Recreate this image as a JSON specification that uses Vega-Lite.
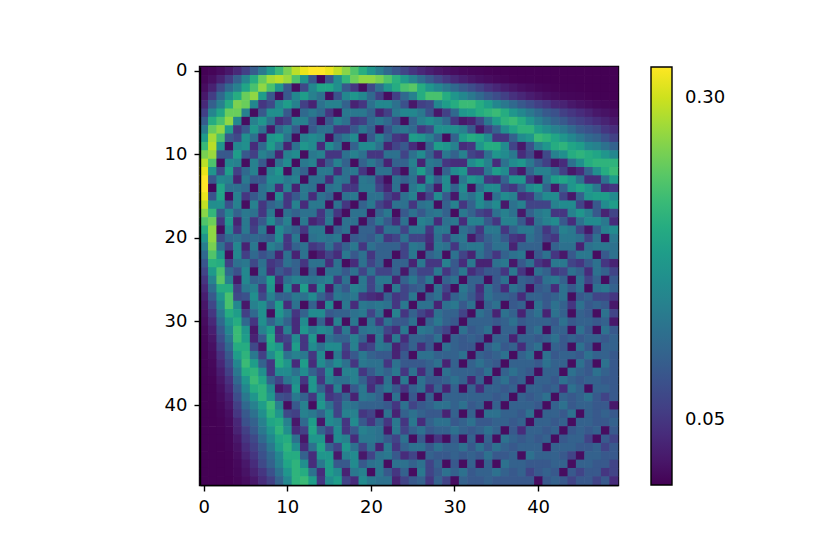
{"$schema":"https://vega.github.io/schema/vega-lite/v6.json","width":418,"height":418,"autosize":"none","padding":{"left":200,"top":67,"right":212,"bottom":69},"background":"white","config":{"view":{"stroke":"black","strokeWidth":2.4},"font":"DejaVu Sans"},"mark":{"type":"rect","width":9,"height":9},"encoding":{"x":{"field":"x","type":"ordinal","scale":{"type":"band","paddingInner":0,"paddingOuter":0},"axis":{"values":[0,10,20,30,40],"title":null,"labelAngle":0,"labelFontSize":18,"labelFont":"DejaVu Sans","labelColor":"black","tickColor":"black","domainColor":"black","tickSize":6,"tickWidth":1.4,"domainWidth":1.4,"labelPadding":7,"grid":false}},"y":{"field":"y","type":"ordinal","scale":{"type":"band","paddingInner":0,"paddingOuter":0},"axis":{"values":[0,10,20,30,40],"title":null,"labelFontSize":18,"labelFont":"DejaVu Sans","labelColor":"black","tickColor":"black","domainColor":"black","tickSize":6,"tickWidth":1.4,"domainWidth":1.4,"labelPadding":7,"grid":false}},"color":{"field":"v","type":"quantitative","scale":{"scheme":"viridis","domain":[0,0.324]},"legend":{"type":"gradient","orient":"none","legendX":451,"legendY":0,"direction":"vertical","gradientLength":418,"gradientThickness":21,"values":[0.05,0.3],"format":".2f","labelFontSize":18,"labelFont":"DejaVu Sans","labelColor":"black","labelOffset":13,"labelOverlap":false,"title":null,"gradientStrokeColor":"black","gradientStrokeWidth":1.4}}},"data":{"values":[
{"x":0,"y":0,"v":0.001},{"x":1,"y":0,"v":0.003},{"x":2,"y":0,"v":0.009},{"x":3,"y":0,"v":0.02},{"x":4,"y":0,"v":0.037},{"x":5,"y":0,"v":0.061},{"x":6,"y":0,"v":0.093},{"x":7,"y":0,"v":0.132},{"x":8,"y":0,"v":0.175},{"x":9,"y":0,"v":0.218},{"x":10,"y":0,"v":0.258},{"x":11,"y":0,"v":0.291},{"x":12,"y":0,"v":0.314},{"x":13,"y":0,"v":0.326},{"x":14,"y":0,"v":0.326},{"x":15,"y":0,"v":0.315},{"x":16,"y":0,"v":0.294},{"x":17,"y":0,"v":0.267},{"x":18,"y":0,"v":0.235},{"x":19,"y":0,"v":0.202},{"x":20,"y":0,"v":0.169},{"x":21,"y":0,"v":0.138},{"x":22,"y":0,"v":0.11},{"x":23,"y":0,"v":0.086},{"x":24,"y":0,"v":0.066},{"x":25,"y":0,"v":0.049},{"x":26,"y":0,"v":0.036},{"x":27,"y":0,"v":0.026},{"x":28,"y":0,"v":0.018},{"x":29,"y":0,"v":0.013},{"x":30,"y":0,"v":0.009},{"x":31,"y":0,"v":0.006},{"x":32,"y":0,"v":0.004},{"x":33,"y":0,"v":0.003},{"x":34,"y":0,"v":0.002},{"x":35,"y":0,"v":0.001},{"x":36,"y":0,"v":0.001},{"x":37,"y":0,"v":0},{"x":38,"y":0,"v":0},{"x":39,"y":0,"v":0},{"x":40,"y":0,"v":0},{"x":41,"y":0,"v":0},{"x":42,"y":0,"v":0},{"x":43,"y":0,"v":0},{"x":44,"y":0,"v":0},{"x":45,"y":0,"v":0},{"x":46,"y":0,"v":0},{"x":47,"y":0,"v":0},{"x":48,"y":0,"v":0},{"x":49,"y":0,"v":0},
{"x":0,"y":1,"v":0.003},{"x":1,"y":1,"v":0.012},{"x":2,"y":1,"v":0.029},{"x":3,"y":1,"v":0.057},{"x":4,"y":1,"v":0.097},{"x":5,"y":1,"v":0.147},{"x":6,"y":1,"v":0.2},{"x":7,"y":1,"v":0.247},{"x":8,"y":1,"v":0.28},{"x":9,"y":1,"v":0.29},{"x":10,"y":1,"v":0.275},{"x":11,"y":1,"v":0.233},{"x":12,"y":1,"v":0.168},{"x":13,"y":1,"v":0.087},{"x":14,"y":1,"v":0.005},{"x":15,"y":1,"v":0.084},{"x":16,"y":1,"v":0.157},{"x":17,"y":1,"v":0.214},{"x":18,"y":1,"v":0.252},{"x":19,"y":1,"v":0.27},{"x":20,"y":1,"v":0.27},{"x":21,"y":1,"v":0.258},{"x":22,"y":1,"v":0.235},{"x":23,"y":1,"v":0.206},{"x":24,"y":1,"v":0.175},{"x":25,"y":1,"v":0.144},{"x":26,"y":1,"v":0.115},{"x":27,"y":1,"v":0.09},{"x":28,"y":1,"v":0.068},{"x":29,"y":1,"v":0.051},{"x":30,"y":1,"v":0.037},{"x":31,"y":1,"v":0.026},{"x":32,"y":1,"v":0.018},{"x":33,"y":1,"v":0.013},{"x":34,"y":1,"v":0.009},{"x":35,"y":1,"v":0.006},{"x":36,"y":1,"v":0.004},{"x":37,"y":1,"v":0.002},{"x":38,"y":1,"v":0.001},{"x":39,"y":1,"v":0.001},{"x":40,"y":1,"v":0},{"x":41,"y":1,"v":0},{"x":42,"y":1,"v":0},{"x":43,"y":1,"v":0},{"x":44,"y":1,"v":0},{"x":45,"y":1,"v":0},{"x":46,"y":1,"v":0},{"x":47,"y":1,"v":0},{"x":48,"y":1,"v":0},{"x":49,"y":1,"v":0},
{"x":0,"y":2,"v":0.009},{"x":1,"y":2,"v":0.029},{"x":2,"y":2,"v":0.07},{"x":3,"y":2,"v":0.11},{"x":4,"y":2,"v":0.14},{"x":5,"y":2,"v":0.19},{"x":6,"y":2,"v":0.23},{"x":7,"y":2,"v":0.27},{"x":8,"y":2,"v":0.23},{"x":9,"y":2,"v":0.17},{"x":10,"y":2,"v":0.09},{"x":11,"y":2,"v":0.01},{"x":12,"y":2,"v":0.07},{"x":13,"y":2,"v":0.15},{"x":14,"y":2,"v":0.19},{"x":15,"y":2,"v":0.19},{"x":16,"y":2,"v":0.16},{"x":17,"y":2,"v":0.09},{"x":18,"y":2,"v":0.05},{"x":19,"y":2,"v":0.01},{"x":20,"y":2,"v":0.07},{"x":21,"y":2,"v":0.12},{"x":22,"y":2,"v":0.17},{"x":23,"y":2,"v":0.2},{"x":24,"y":2,"v":0.23},{"x":25,"y":2,"v":0.24},{"x":26,"y":2,"v":0.2},{"x":27,"y":2,"v":0.17},{"x":28,"y":2,"v":0.15},{"x":29,"y":2,"v":0.13},{"x":30,"y":2,"v":0.11},{"x":31,"y":2,"v":0.09},{"x":32,"y":2,"v":0.075},{"x":33,"y":2,"v":0.06},{"x":34,"y":2,"v":0.045},{"x":35,"y":2,"v":0.035},{"x":36,"y":2,"v":0.025},{"x":37,"y":2,"v":0.018},{"x":38,"y":2,"v":0.012},{"x":39,"y":2,"v":0.008},{"x":40,"y":2,"v":0.005},{"x":41,"y":2,"v":0.003},{"x":42,"y":2,"v":0.002},{"x":43,"y":2,"v":0.001},{"x":44,"y":2,"v":0.001},{"x":45,"y":2,"v":0},{"x":46,"y":2,"v":0},{"x":47,"y":2,"v":0},{"x":48,"y":2,"v":0},{"x":49,"y":2,"v":0},
{"x":0,"y":3,"v":0.02},{"x":1,"y":3,"v":0.057},{"x":2,"y":3,"v":0.11},{"x":3,"y":3,"v":0.16},{"x":4,"y":3,"v":0.2},{"x":5,"y":3,"v":0.25},{"x":6,"y":3,"v":0.27},{"x":7,"y":3,"v":0.18},{"x":8,"y":3,"v":0.09},{"x":9,"y":3,"v":0.01},{"x":10,"y":3,"v":0.09},{"x":11,"y":3,"v":0.15},{"x":12,"y":3,"v":0.18},{"x":13,"y":3,"v":0.14},{"x":14,"y":3,"v":0.12},{"x":15,"y":3,"v":0.01},{"x":16,"y":3,"v":0.08},{"x":17,"y":3,"v":0.15},{"x":18,"y":3,"v":0.17},{"x":19,"y":3,"v":0.15},{"x":20,"y":3,"v":0.11},{"x":21,"y":3,"v":0.06},{"x":22,"y":3,"v":0.01},{"x":23,"y":3,"v":0.06},{"x":24,"y":3,"v":0.11},{"x":25,"y":3,"v":0.14},{"x":26,"y":3,"v":0.2},{"x":27,"y":3,"v":0.23},{"x":28,"y":3,"v":0.23},{"x":29,"y":3,"v":0.2},{"x":30,"y":3,"v":0.17},{"x":31,"y":3,"v":0.15},{"x":32,"y":3,"v":0.13},{"x":33,"y":3,"v":0.11},{"x":34,"y":3,"v":0.09},{"x":35,"y":3,"v":0.075},{"x":36,"y":3,"v":0.06},{"x":37,"y":3,"v":0.045},{"x":38,"y":3,"v":0.035},{"x":39,"y":3,"v":0.025},{"x":40,"y":3,"v":0.018},{"x":41,"y":3,"v":0.012},{"x":42,"y":3,"v":0.008},{"x":43,"y":3,"v":0.005},{"x":44,"y":3,"v":0.004},{"x":45,"y":3,"v":0.003},{"x":46,"y":3,"v":0.002},{"x":47,"y":3,"v":0.001},{"x":48,"y":3,"v":0.001},{"x":49,"y":3,"v":0},
{"x":0,"y":4,"v":0.037},{"x":1,"y":4,"v":0.097},{"x":2,"y":4,"v":0.14},{"x":3,"y":4,"v":0.2},{"x":4,"y":4,"v":0.26},{"x":5,"y":4,"v":0.25},{"x":6,"y":4,"v":0.15},{"x":7,"y":4,"v":0.05},{"x":8,"y":4,"v":0.07},{"x":9,"y":4,"v":0.15},{"x":10,"y":4,"v":0.18},{"x":11,"y":4,"v":0.14},{"x":12,"y":4,"v":0.06},{"x":13,"y":4,"v":0.03},{"x":14,"y":4,"v":0.12},{"x":15,"y":4,"v":0.14},{"x":16,"y":4,"v":0.14},{"x":17,"y":4,"v":0.1},{"x":18,"y":4,"v":0.03},{"x":19,"y":4,"v":0.05},{"x":20,"y":4,"v":0.12},{"x":21,"y":4,"v":0.15},{"x":22,"y":4,"v":0.15},{"x":23,"y":4,"v":0.12},{"x":24,"y":4,"v":0.08},{"x":25,"y":4,"v":0.02},{"x":26,"y":4,"v":0.06},{"x":27,"y":4,"v":0.07},{"x":28,"y":4,"v":0.15},{"x":29,"y":4,"v":0.18},{"x":30,"y":4,"v":0.2},{"x":31,"y":4,"v":0.22},{"x":32,"y":4,"v":0.22},{"x":33,"y":4,"v":0.2},{"x":34,"y":4,"v":0.18},{"x":35,"y":4,"v":0.15},{"x":36,"y":4,"v":0.13},{"x":37,"y":4,"v":0.11},{"x":38,"y":4,"v":0.09},{"x":39,"y":4,"v":0.075},{"x":40,"y":4,"v":0.06},{"x":41,"y":4,"v":0.05},{"x":42,"y":4,"v":0.035},{"x":43,"y":4,"v":0.03},{"x":44,"y":4,"v":0.02},{"x":45,"y":4,"v":0.014},{"x":46,"y":4,"v":0.01},{"x":47,"y":4,"v":0.007},{"x":48,"y":4,"v":0.005},{"x":49,"y":4,"v":0.003},
{"x":0,"y":5,"v":0.061},{"x":1,"y":5,"v":0.147},{"x":2,"y":5,"v":0.19},{"x":3,"y":5,"v":0.25},{"x":4,"y":5,"v":0.25},{"x":5,"y":5,"v":0.14},{"x":6,"y":5,"v":0.01},{"x":7,"y":5,"v":0.09},{"x":8,"y":5,"v":0.16},{"x":9,"y":5,"v":0.16},{"x":10,"y":5,"v":0.09},{"x":11,"y":5,"v":0.01},{"x":12,"y":5,"v":0.11},{"x":13,"y":5,"v":0.13},{"x":14,"y":5,"v":0.11},{"x":15,"y":5,"v":0.05},{"x":16,"y":5,"v":0.01},{"x":17,"y":5,"v":0.13},{"x":18,"y":5,"v":0.13},{"x":19,"y":5,"v":0.13},{"x":20,"y":5,"v":0.1},{"x":21,"y":5,"v":0.03},{"x":22,"y":5,"v":0.06},{"x":23,"y":5,"v":0.13},{"x":24,"y":5,"v":0.15},{"x":25,"y":5,"v":0.15},{"x":26,"y":5,"v":0.13},{"x":27,"y":5,"v":0.08},{"x":28,"y":5,"v":0.02},{"x":29,"y":5,"v":0.06},{"x":30,"y":5,"v":0.11},{"x":31,"y":5,"v":0.17},{"x":32,"y":5,"v":0.18},{"x":33,"y":5,"v":0.2},{"x":34,"y":5,"v":0.21},{"x":35,"y":5,"v":0.22},{"x":36,"y":5,"v":0.2},{"x":37,"y":5,"v":0.17},{"x":38,"y":5,"v":0.15},{"x":39,"y":5,"v":0.13},{"x":40,"y":5,"v":0.11},{"x":41,"y":5,"v":0.09},{"x":42,"y":5,"v":0.08},{"x":43,"y":5,"v":0.06},{"x":44,"y":5,"v":0.05},{"x":45,"y":5,"v":0.04},{"x":46,"y":5,"v":0.03},{"x":47,"y":5,"v":0.02},{"x":48,"y":5,"v":0.015},{"x":49,"y":5,"v":0.01},
{"x":0,"y":6,"v":0.093},{"x":1,"y":6,"v":0.2},{"x":2,"y":6,"v":0.23},{"x":3,"y":6,"v":0.27},{"x":4,"y":6,"v":0.15},{"x":5,"y":6,"v":0.01},{"x":6,"y":6,"v":0.14},{"x":7,"y":6,"v":0.17},{"x":8,"y":6,"v":0.12},{"x":9,"y":6,"v":0.04},{"x":10,"y":6,"v":0.06},{"x":11,"y":6,"v":0.14},{"x":12,"y":6,"v":0.14},{"x":13,"y":6,"v":0.09},{"x":14,"y":6,"v":0.01},{"x":15,"y":6,"v":0.09},{"x":16,"y":6,"v":0.14},{"x":17,"y":6,"v":0.12},{"x":18,"y":6,"v":0.05},{"x":19,"y":6,"v":0.06},{"x":20,"y":6,"v":0.11},{"x":21,"y":6,"v":0.13},{"x":22,"y":6,"v":0.11},{"x":23,"y":6,"v":0.07},{"x":24,"y":6,"v":0.01},{"x":25,"y":6,"v":0.1},{"x":26,"y":6,"v":0.14},{"x":27,"y":6,"v":0.16},{"x":28,"y":6,"v":0.14},{"x":29,"y":6,"v":0.11},{"x":30,"y":6,"v":0.05},{"x":31,"y":6,"v":0.02},{"x":32,"y":6,"v":0.03},{"x":33,"y":6,"v":0.07},{"x":34,"y":6,"v":0.13},{"x":35,"y":6,"v":0.18},{"x":36,"y":6,"v":0.21},{"x":37,"y":6,"v":0.22},{"x":38,"y":6,"v":0.2},{"x":39,"y":6,"v":0.17},{"x":40,"y":6,"v":0.14},{"x":41,"y":6,"v":0.12},{"x":42,"y":6,"v":0.1},{"x":43,"y":6,"v":0.09},{"x":44,"y":6,"v":0.07},{"x":45,"y":6,"v":0.06},{"x":46,"y":6,"v":0.05},{"x":47,"y":6,"v":0.04},{"x":48,"y":6,"v":0.03},{"x":49,"y":6,"v":0.02},
{"x":0,"y":7,"v":0.132},{"x":1,"y":7,"v":0.247},{"x":2,"y":7,"v":0.27},{"x":3,"y":7,"v":0.18},{"x":4,"y":7,"v":0.05},{"x":5,"y":7,"v":0.09},{"x":6,"y":7,"v":0.17},{"x":7,"y":7,"v":0.12},{"x":8,"y":7,"v":0.02},{"x":9,"y":7,"v":0.11},{"x":10,"y":7,"v":0.14},{"x":11,"y":7,"v":0.09},{"x":12,"y":7,"v":0.01},{"x":13,"y":7,"v":0.09},{"x":14,"y":7,"v":0.12},{"x":15,"y":7,"v":0.12},{"x":16,"y":7,"v":0.05},{"x":17,"y":7,"v":0.05},{"x":18,"y":7,"v":0.09},{"x":19,"y":7,"v":0.13},{"x":20,"y":7,"v":0.1},{"x":21,"y":7,"v":0.01},{"x":22,"y":7,"v":0.08},{"x":23,"y":7,"v":0.12},{"x":24,"y":7,"v":0.13},{"x":25,"y":7,"v":0.11},{"x":26,"y":7,"v":0.05},{"x":27,"y":7,"v":0.07},{"x":28,"y":7,"v":0.16},{"x":29,"y":7,"v":0.16},{"x":30,"y":7,"v":0.16},{"x":31,"y":7,"v":0.14},{"x":32,"y":7,"v":0.09},{"x":33,"y":7,"v":0.02},{"x":34,"y":7,"v":0.06},{"x":35,"y":7,"v":0.1},{"x":36,"y":7,"v":0.16},{"x":37,"y":7,"v":0.19},{"x":38,"y":7,"v":0.21},{"x":39,"y":7,"v":0.21},{"x":40,"y":7,"v":0.18},{"x":41,"y":7,"v":0.16},{"x":42,"y":7,"v":0.14},{"x":43,"y":7,"v":0.13},{"x":44,"y":7,"v":0.11},{"x":45,"y":7,"v":0.09},{"x":46,"y":7,"v":0.08},{"x":47,"y":7,"v":0.07},{"x":48,"y":7,"v":0.05},{"x":49,"y":7,"v":0.04},
{"x":0,"y":8,"v":0.175},{"x":1,"y":8,"v":0.28},{"x":2,"y":8,"v":0.23},{"x":3,"y":8,"v":0.09},{"x":4,"y":8,"v":0.07},{"x":5,"y":8,"v":0.16},{"x":6,"y":8,"v":0.12},{"x":7,"y":8,"v":0.02},{"x":8,"y":8,"v":0.17},{"x":9,"y":8,"v":0.18},{"x":10,"y":8,"v":0.12},{"x":11,"y":8,"v":0.01},{"x":12,"y":8,"v":0.14},{"x":13,"y":8,"v":0.155},{"x":14,"y":8,"v":0.14},{"x":15,"y":8,"v":0.01},{"x":16,"y":8,"v":0.1},{"x":17,"y":8,"v":0.13},{"x":18,"y":8,"v":0.155},{"x":19,"y":8,"v":0.01},{"x":20,"y":8,"v":0.09},{"x":21,"y":8,"v":0.14},{"x":22,"y":8,"v":0.1},{"x":23,"y":8,"v":0.05},{"x":24,"y":8,"v":0.04},{"x":25,"y":8,"v":0.18},{"x":26,"y":8,"v":0.17},{"x":27,"y":8,"v":0.14},{"x":28,"y":8,"v":0.1},{"x":29,"y":8,"v":0.01},{"x":30,"y":8,"v":0.1},{"x":31,"y":8,"v":0.18},{"x":32,"y":8,"v":0.2},{"x":33,"y":8,"v":0.19},{"x":34,"y":8,"v":0.155},{"x":35,"y":8,"v":0.05},{"x":36,"y":8,"v":0.05},{"x":37,"y":8,"v":0.1},{"x":38,"y":8,"v":0.155},{"x":39,"y":8,"v":0.17},{"x":40,"y":8,"v":0.22},{"x":41,"y":8,"v":0.21},{"x":42,"y":8,"v":0.19},{"x":43,"y":8,"v":0.17},{"x":44,"y":8,"v":0.15},{"x":45,"y":8,"v":0.13},{"x":46,"y":8,"v":0.11},{"x":47,"y":8,"v":0.1},{"x":48,"y":8,"v":0.08},{"x":49,"y":8,"v":0.06},
{"x":0,"y":9,"v":0.218},{"x":1,"y":9,"v":0.29},{"x":2,"y":9,"v":0.17},{"x":3,"y":9,"v":0.01},{"x":4,"y":9,"v":0.15},{"x":5,"y":9,"v":0.16},{"x":6,"y":9,"v":0.04},{"x":7,"y":9,"v":0.11},{"x":8,"y":9,"v":0.18},{"x":9,"y":9,"v":0.13},{"x":10,"y":9,"v":0.03},{"x":11,"y":9,"v":0.12},{"x":12,"y":9,"v":0.17},{"x":13,"y":9,"v":0.155},{"x":14,"y":9,"v":0.04},{"x":15,"y":9,"v":0.155},{"x":16,"y":9,"v":0.12},{"x":17,"y":9,"v":0.01},{"x":18,"y":9,"v":0.1},{"x":19,"y":9,"v":0.155},{"x":20,"y":9,"v":0.155},{"x":21,"y":9,"v":0.12},{"x":22,"y":9,"v":0.03},{"x":23,"y":9,"v":0.065},{"x":24,"y":9,"v":0.09},{"x":25,"y":9,"v":0.04},{"x":26,"y":9,"v":0.01},{"x":27,"y":9,"v":0.1},{"x":28,"y":9,"v":0.18},{"x":29,"y":9,"v":0.17},{"x":30,"y":9,"v":0.14},{"x":31,"y":9,"v":0.04},{"x":32,"y":9,"v":0.05},{"x":33,"y":9,"v":0.17},{"x":34,"y":9,"v":0.2},{"x":35,"y":9,"v":0.2},{"x":36,"y":9,"v":0.155},{"x":37,"y":9,"v":0.065},{"x":38,"y":9,"v":0.02},{"x":39,"y":9,"v":0.08},{"x":40,"y":9,"v":0.14},{"x":41,"y":9,"v":0.17},{"x":42,"y":9,"v":0.2},{"x":43,"y":9,"v":0.21},{"x":44,"y":9,"v":0.19},{"x":45,"y":9,"v":0.18},{"x":46,"y":9,"v":0.15},{"x":47,"y":9,"v":0.14},{"x":48,"y":9,"v":0.12},{"x":49,"y":9,"v":0.1},
{"x":0,"y":10,"v":0.258},{"x":1,"y":10,"v":0.275},{"x":2,"y":10,"v":0.09},{"x":3,"y":10,"v":0.09},{"x":4,"y":10,"v":0.18},{"x":5,"y":10,"v":0.09},{"x":6,"y":10,"v":0.06},{"x":7,"y":10,"v":0.14},{"x":8,"y":10,"v":0.12},{"x":9,"y":10,"v":0.03},{"x":10,"y":10,"v":0.14},{"x":11,"y":10,"v":0.155},{"x":12,"y":10,"v":0.01},{"x":13,"y":10,"v":0.13},{"x":14,"y":10,"v":0.14},{"x":15,"y":10,"v":0.05},{"x":16,"y":10,"v":0.05},{"x":17,"y":10,"v":0.12},{"x":18,"y":10,"v":0.14},{"x":19,"y":10,"v":0.12},{"x":20,"y":10,"v":0.05},{"x":21,"y":10,"v":0.05},{"x":22,"y":10,"v":0.12},{"x":23,"y":10,"v":0.12},{"x":24,"y":10,"v":0.065},{"x":25,"y":10,"v":0.12},{"x":26,"y":10,"v":0.155},{"x":27,"y":10,"v":0.1},{"x":28,"y":10,"v":0.04},{"x":29,"y":10,"v":0.13},{"x":30,"y":10,"v":0.1},{"x":31,"y":10,"v":0.14},{"x":32,"y":10,"v":0.065},{"x":33,"y":10,"v":0.05},{"x":34,"y":10,"v":0.12},{"x":35,"y":10,"v":0.17},{"x":36,"y":10,"v":0.155},{"x":37,"y":10,"v":0.13},{"x":38,"y":10,"v":0.04},{"x":39,"y":10,"v":0.07},{"x":40,"y":10,"v":0.01},{"x":41,"y":10,"v":0.07},{"x":42,"y":10,"v":0.14},{"x":43,"y":10,"v":0.16},{"x":44,"y":10,"v":0.2},{"x":45,"y":10,"v":0.21},{"x":46,"y":10,"v":0.2},{"x":47,"y":10,"v":0.19},{"x":48,"y":10,"v":0.17},{"x":49,"y":10,"v":0.15},
{"x":0,"y":11,"v":0.291},{"x":1,"y":11,"v":0.233},{"x":2,"y":11,"v":0.01},{"x":3,"y":11,"v":0.15},{"x":4,"y":11,"v":0.14},{"x":5,"y":11,"v":0.01},{"x":6,"y":11,"v":0.14},{"x":7,"y":11,"v":0.09},{"x":8,"y":11,"v":0.01},{"x":9,"y":11,"v":0.12},{"x":10,"y":11,"v":0.155},{"x":11,"y":11,"v":0.01},{"x":12,"y":11,"v":0.13},{"x":13,"y":11,"v":0.14},{"x":14,"y":11,"v":0.03},{"x":15,"y":11,"v":0.09},{"x":16,"y":11,"v":0.14},{"x":17,"y":11,"v":0.1},{"x":18,"y":11,"v":0.01},{"x":19,"y":11,"v":0.1},{"x":20,"y":11,"v":0.13},{"x":21,"y":11,"v":0.1},{"x":22,"y":11,"v":0.03},{"x":23,"y":11,"v":0.1},{"x":24,"y":11,"v":0.1},{"x":25,"y":11,"v":0.14},{"x":26,"y":11,"v":0.03},{"x":27,"y":11,"v":0.13},{"x":28,"y":11,"v":0.12},{"x":29,"y":11,"v":0.05},{"x":30,"y":11,"v":0.04},{"x":31,"y":11,"v":0.04},{"x":32,"y":11,"v":0.155},{"x":33,"y":11,"v":0.18},{"x":34,"y":11,"v":0.14},{"x":35,"y":11,"v":0.04},{"x":36,"y":11,"v":0.12},{"x":37,"y":11,"v":0.155},{"x":38,"y":11,"v":0.17},{"x":39,"y":11,"v":0.13},{"x":40,"y":11,"v":0.09},{"x":41,"y":11,"v":0.06},{"x":42,"y":11,"v":0.02},{"x":43,"y":11,"v":0.04},{"x":44,"y":11,"v":0.12},{"x":45,"y":11,"v":0.16},{"x":46,"y":11,"v":0.2},{"x":47,"y":11,"v":0.21},{"x":48,"y":11,"v":0.21},{"x":49,"y":11,"v":0.21},
{"x":0,"y":12,"v":0.314},{"x":1,"y":12,"v":0.168},{"x":2,"y":12,"v":0.07},{"x":3,"y":12,"v":0.18},{"x":4,"y":12,"v":0.06},{"x":5,"y":12,"v":0.11},{"x":6,"y":12,"v":0.14},{"x":7,"y":12,"v":0.01},{"x":8,"y":12,"v":0.14},{"x":9,"y":12,"v":0.17},{"x":10,"y":12,"v":0.01},{"x":11,"y":12,"v":0.13},{"x":12,"y":12,"v":0.1},{"x":13,"y":12,"v":0.01},{"x":14,"y":12,"v":0.13},{"x":15,"y":12,"v":0.13},{"x":16,"y":12,"v":0.04},{"x":17,"y":12,"v":0.12},{"x":18,"y":12,"v":0.13},{"x":19,"y":12,"v":0.05},{"x":20,"y":12,"v":0.01},{"x":21,"y":12,"v":0.12},{"x":22,"y":12,"v":0.12},{"x":23,"y":12,"v":0.05},{"x":24,"y":12,"v":0.01},{"x":25,"y":12,"v":0.13},{"x":26,"y":12,"v":0.18},{"x":27,"y":12,"v":0.12},{"x":28,"y":12,"v":0.01},{"x":29,"y":12,"v":0.1},{"x":30,"y":12,"v":0.155},{"x":31,"y":12,"v":0.17},{"x":32,"y":12,"v":0.05},{"x":33,"y":12,"v":0.05},{"x":34,"y":12,"v":0.13},{"x":35,"y":12,"v":0.18},{"x":36,"y":12,"v":0.155},{"x":37,"y":12,"v":0.05},{"x":38,"y":12,"v":0.02},{"x":39,"y":12,"v":0.1},{"x":40,"y":12,"v":0.14},{"x":41,"y":12,"v":0.14},{"x":42,"y":12,"v":0.11},{"x":43,"y":12,"v":0.06},{"x":44,"y":12,"v":0.02},{"x":45,"y":12,"v":0.04},{"x":46,"y":12,"v":0.1},{"x":47,"y":12,"v":0.16},{"x":48,"y":12,"v":0.2},{"x":49,"y":12,"v":0.22},
{"x":0,"y":13,"v":0.326},{"x":1,"y":13,"v":0.087},{"x":2,"y":13,"v":0.15},{"x":3,"y":13,"v":0.14},{"x":4,"y":13,"v":0.03},{"x":5,"y":13,"v":0.13},{"x":6,"y":13,"v":0.09},{"x":7,"y":13,"v":0.09},{"x":8,"y":13,"v":0.155},{"x":9,"y":13,"v":0.155},{"x":10,"y":13,"v":0.13},{"x":11,"y":13,"v":0.14},{"x":12,"y":13,"v":0.01},{"x":13,"y":13,"v":0.12},{"x":14,"y":13,"v":0.12},{"x":15,"y":13,"v":0.04},{"x":16,"y":13,"v":0.13},{"x":17,"y":13,"v":0.12},{"x":18,"y":13,"v":0.03},{"x":19,"y":13,"v":0.13},{"x":20,"y":13,"v":0.12},{"x":21,"y":13,"v":0.05},{"x":22,"y":13,"v":0.01},{"x":23,"y":13,"v":0.12},{"x":24,"y":13,"v":0.1},{"x":25,"y":13,"v":0.12},{"x":26,"y":13,"v":0.03},{"x":27,"y":13,"v":0.155},{"x":28,"y":13,"v":0.1},{"x":29,"y":13,"v":0.155},{"x":30,"y":13,"v":0.01},{"x":31,"y":13,"v":0.13},{"x":32,"y":13,"v":0.17},{"x":33,"y":13,"v":0.155},{"x":34,"y":13,"v":0.05},{"x":35,"y":13,"v":0.04},{"x":36,"y":13,"v":0.1},{"x":37,"y":13,"v":0.17},{"x":38,"y":13,"v":0.17},{"x":39,"y":13,"v":0.05},{"x":40,"y":13,"v":0.01},{"x":41,"y":13,"v":0.13},{"x":42,"y":13,"v":0.18},{"x":43,"y":13,"v":0.19},{"x":44,"y":13,"v":0.17},{"x":45,"y":13,"v":0.12},{"x":46,"y":13,"v":0.04},{"x":47,"y":13,"v":0.04},{"x":48,"y":13,"v":0.12},{"x":49,"y":13,"v":0.18},
{"x":0,"y":14,"v":0.326},{"x":1,"y":14,"v":0.005},{"x":2,"y":14,"v":0.19},{"x":3,"y":14,"v":0.12},{"x":4,"y":14,"v":0.12},{"x":5,"y":14,"v":0.11},{"x":6,"y":14,"v":0.01},{"x":7,"y":14,"v":0.12},{"x":8,"y":14,"v":0.14},{"x":9,"y":14,"v":0.04},{"x":10,"y":14,"v":0.14},{"x":11,"y":14,"v":0.03},{"x":12,"y":14,"v":0.13},{"x":13,"y":14,"v":0.12},{"x":14,"y":14,"v":0.01},{"x":15,"y":14,"v":0.12},{"x":16,"y":14,"v":0.13},{"x":17,"y":14,"v":0.05},{"x":18,"y":14,"v":0.05},{"x":19,"y":14,"v":0.13},{"x":20,"y":14,"v":0.13},{"x":21,"y":14,"v":0.065},{"x":22,"y":14,"v":0.03},{"x":23,"y":14,"v":0.12},{"x":24,"y":14,"v":0.01},{"x":25,"y":14,"v":0.13},{"x":26,"y":14,"v":0.155},{"x":27,"y":14,"v":0.1},{"x":28,"y":14,"v":0.02},{"x":29,"y":14,"v":0.155},{"x":30,"y":14,"v":0.1},{"x":31,"y":14,"v":0.155},{"x":32,"y":14,"v":0.01},{"x":33,"y":14,"v":0.12},{"x":34,"y":14,"v":0.155},{"x":35,"y":14,"v":0.155},{"x":36,"y":14,"v":0.065},{"x":37,"y":14,"v":0.05},{"x":38,"y":14,"v":0.1},{"x":39,"y":14,"v":0.155},{"x":40,"y":14,"v":0.17},{"x":41,"y":14,"v":0.1},{"x":42,"y":14,"v":0.02},{"x":43,"y":14,"v":0.1},{"x":44,"y":14,"v":0.17},{"x":45,"y":14,"v":0.19},{"x":46,"y":14,"v":0.17},{"x":47,"y":14,"v":0.13},{"x":48,"y":14,"v":0.04},{"x":49,"y":14,"v":0.05},
{"x":0,"y":15,"v":0.315},{"x":1,"y":15,"v":0.084},{"x":2,"y":15,"v":0.19},{"x":3,"y":15,"v":0.01},{"x":4,"y":15,"v":0.14},{"x":5,"y":15,"v":0.05},{"x":6,"y":15,"v":0.09},{"x":7,"y":15,"v":0.12},{"x":8,"y":15,"v":0.01},{"x":9,"y":15,"v":0.155},{"x":10,"y":15,"v":0.05},{"x":11,"y":15,"v":0.09},{"x":12,"y":15,"v":0.13},{"x":13,"y":15,"v":0.04},{"x":14,"y":15,"v":0.12},{"x":15,"y":15,"v":0.1},{"x":16,"y":15,"v":0.01},{"x":17,"y":15,"v":0.12},{"x":18,"y":15,"v":0.13},{"x":19,"y":15,"v":0.01},{"x":20,"y":15,"v":0.12},{"x":21,"y":15,"v":0.12},{"x":22,"y":15,"v":0.065},{"x":23,"y":15,"v":0.04},{"x":24,"y":15,"v":0.12},{"x":25,"y":15,"v":0.14},{"x":26,"y":15,"v":0.02},{"x":27,"y":15,"v":0.065},{"x":28,"y":15,"v":0.155},{"x":29,"y":15,"v":0.09},{"x":30,"y":15,"v":0.02},{"x":31,"y":15,"v":0.14},{"x":32,"y":15,"v":0.12},{"x":33,"y":15,"v":0.155},{"x":34,"y":15,"v":0.01},{"x":35,"y":15,"v":0.12},{"x":36,"y":15,"v":0.155},{"x":37,"y":15,"v":0.14},{"x":38,"y":15,"v":0.04},{"x":39,"y":15,"v":0.05},{"x":40,"y":15,"v":0.12},{"x":41,"y":15,"v":0.155},{"x":42,"y":15,"v":0.155},{"x":43,"y":15,"v":0.065},{"x":44,"y":15,"v":0.02},{"x":45,"y":15,"v":0.1},{"x":46,"y":15,"v":0.17},{"x":47,"y":15,"v":0.18},{"x":48,"y":15,"v":0.18},{"x":49,"y":15,"v":0.155},
{"x":0,"y":16,"v":0.294},{"x":1,"y":16,"v":0.157},{"x":2,"y":16,"v":0.16},{"x":3,"y":16,"v":0.08},{"x":4,"y":16,"v":0.14},{"x":5,"y":16,"v":0.01},{"x":6,"y":16,"v":0.14},{"x":7,"y":16,"v":0.05},{"x":8,"y":16,"v":0.1},{"x":9,"y":16,"v":0.12},{"x":10,"y":16,"v":0.05},{"x":11,"y":16,"v":0.14},{"x":12,"y":16,"v":0.04},{"x":13,"y":16,"v":0.13},{"x":14,"y":16,"v":0.13},{"x":15,"y":16,"v":0.01},{"x":16,"y":16,"v":0.12},{"x":17,"y":16,"v":0.05},{"x":18,"y":16,"v":0.01},{"x":19,"y":16,"v":0.1},{"x":20,"y":16,"v":0.13},{"x":21,"y":16,"v":0.065},{"x":22,"y":16,"v":0.04},{"x":23,"y":16,"v":0.12},{"x":24,"y":16,"v":0.12},{"x":25,"y":16,"v":0.05},{"x":26,"y":16,"v":0.12},{"x":27,"y":16,"v":0.13},{"x":28,"y":16,"v":0.01},{"x":29,"y":16,"v":0.1},{"x":30,"y":16,"v":0.14},{"x":31,"y":16,"v":0.05},{"x":32,"y":16,"v":0.1},{"x":33,"y":16,"v":0.155},{"x":34,"y":16,"v":0.13},{"x":35,"y":16,"v":0.155},{"x":36,"y":16,"v":0.02},{"x":37,"y":16,"v":0.12},{"x":38,"y":16,"v":0.14},{"x":39,"y":16,"v":0.065},{"x":40,"y":16,"v":0.065},{"x":41,"y":16,"v":0.065},{"x":42,"y":16,"v":0.14},{"x":43,"y":16,"v":0.155},{"x":44,"y":16,"v":0.155},{"x":45,"y":16,"v":0.065},{"x":46,"y":16,"v":0.02},{"x":47,"y":16,"v":0.09},{"x":48,"y":16,"v":0.155},{"x":49,"y":16,"v":0.18},
{"x":0,"y":17,"v":0.267},{"x":1,"y":17,"v":0.214},{"x":2,"y":17,"v":0.09},{"x":3,"y":17,"v":0.15},{"x":4,"y":17,"v":0.1},{"x":5,"y":17,"v":0.13},{"x":6,"y":17,"v":0.12},{"x":7,"y":17,"v":0.05},{"x":8,"y":17,"v":0.13},{"x":9,"y":17,"v":0.01},{"x":10,"y":17,"v":0.12},{"x":11,"y":17,"v":0.1},{"x":12,"y":17,"v":0.12},{"x":13,"y":17,"v":0.12},{"x":14,"y":17,"v":0.05},{"x":15,"y":17,"v":0.12},{"x":16,"y":17,"v":0.05},{"x":17,"y":17,"v":0.01},{"x":18,"y":17,"v":0.12},{"x":19,"y":17,"v":0.12},{"x":20,"y":17,"v":0.01},{"x":21,"y":17,"v":0.1},{"x":22,"y":17,"v":0.13},{"x":23,"y":17,"v":0.01},{"x":24,"y":17,"v":0.09},{"x":25,"y":17,"v":0.12},{"x":26,"y":17,"v":0.09},{"x":27,"y":17,"v":0.12},{"x":28,"y":17,"v":0.13},{"x":29,"y":17,"v":0.1},{"x":30,"y":17,"v":0.01},{"x":31,"y":17,"v":0.13},{"x":32,"y":17,"v":0.1},{"x":33,"y":17,"v":0.065},{"x":34,"y":17,"v":0.05},{"x":35,"y":17,"v":0.12},{"x":36,"y":17,"v":0.14},{"x":37,"y":17,"v":0.12},{"x":38,"y":17,"v":0.02},{"x":39,"y":17,"v":0.1},{"x":40,"y":17,"v":0.13},{"x":41,"y":17,"v":0.14},{"x":42,"y":17,"v":0.05},{"x":43,"y":17,"v":0.05},{"x":44,"y":17,"v":0.14},{"x":45,"y":17,"v":0.17},{"x":46,"y":17,"v":0.14},{"x":47,"y":17,"v":0.09},{"x":48,"y":17,"v":0.03},{"x":49,"y":17,"v":0.065},
{"x":0,"y":18,"v":0.235},{"x":1,"y":18,"v":0.252},{"x":2,"y":18,"v":0.05},{"x":3,"y":18,"v":0.17},{"x":4,"y":18,"v":0.03},{"x":5,"y":18,"v":0.13},{"x":6,"y":18,"v":0.05},{"x":7,"y":18,"v":0.09},{"x":8,"y":18,"v":0.155},{"x":9,"y":18,"v":0.1},{"x":10,"y":18,"v":0.14},{"x":11,"y":18,"v":0.01},{"x":12,"y":18,"v":0.13},{"x":13,"y":18,"v":0.03},{"x":14,"y":18,"v":0.05},{"x":15,"y":18,"v":0.13},{"x":16,"y":18,"v":0.01},{"x":17,"y":18,"v":0.12},{"x":18,"y":18,"v":0.12},{"x":19,"y":18,"v":0.01},{"x":20,"y":18,"v":0.09},{"x":21,"y":18,"v":0.13},{"x":22,"y":18,"v":0.09},{"x":23,"y":18,"v":0.04},{"x":24,"y":18,"v":0.12},{"x":25,"y":18,"v":0.01},{"x":26,"y":18,"v":0.14},{"x":27,"y":18,"v":0.13},{"x":28,"y":18,"v":0.04},{"x":29,"y":18,"v":0.12},{"x":30,"y":18,"v":0.13},{"x":31,"y":18,"v":0.04},{"x":32,"y":18,"v":0.14},{"x":33,"y":18,"v":0.14},{"x":34,"y":18,"v":0.09},{"x":35,"y":18,"v":0.05},{"x":36,"y":18,"v":0.14},{"x":37,"y":18,"v":0.14},{"x":38,"y":18,"v":0.09},{"x":39,"y":18,"v":0.03},{"x":40,"y":18,"v":0.12},{"x":41,"y":18,"v":0.14},{"x":42,"y":18,"v":0.155},{"x":43,"y":18,"v":0.09},{"x":44,"y":18,"v":0.04},{"x":45,"y":18,"v":0.12},{"x":46,"y":18,"v":0.155},{"x":47,"y":18,"v":0.155},{"x":48,"y":18,"v":0.13},{"x":49,"y":18,"v":0.04},
{"x":0,"y":19,"v":0.202},{"x":1,"y":19,"v":0.27},{"x":2,"y":19,"v":0.01},{"x":3,"y":19,"v":0.15},{"x":4,"y":19,"v":0.05},{"x":5,"y":19,"v":0.13},{"x":6,"y":19,"v":0.06},{"x":7,"y":19,"v":0.13},{"x":8,"y":19,"v":0.01},{"x":9,"y":19,"v":0.155},{"x":10,"y":19,"v":0.12},{"x":11,"y":19,"v":0.1},{"x":12,"y":19,"v":0.05},{"x":13,"y":19,"v":0.13},{"x":14,"y":19,"v":0.13},{"x":15,"y":19,"v":0.01},{"x":16,"y":19,"v":0.1},{"x":17,"y":19,"v":0.12},{"x":18,"y":19,"v":0.01},{"x":19,"y":19,"v":0.1},{"x":20,"y":19,"v":0.1},{"x":21,"y":19,"v":0.05},{"x":22,"y":19,"v":0.12},{"x":23,"y":19,"v":0.12},{"x":24,"y":19,"v":0.065},{"x":25,"y":19,"v":0.13},{"x":26,"y":19,"v":0.13},{"x":27,"y":19,"v":0.05},{"x":28,"y":19,"v":0.13},{"x":29,"y":19,"v":0.13},{"x":30,"y":19,"v":0.01},{"x":31,"y":19,"v":0.12},{"x":32,"y":19,"v":0.1},{"x":33,"y":19,"v":0.05},{"x":34,"y":19,"v":0.13},{"x":35,"y":19,"v":0.13},{"x":36,"y":19,"v":0.05},{"x":37,"y":19,"v":0.1},{"x":38,"y":19,"v":0.13},{"x":39,"y":19,"v":0.13},{"x":40,"y":19,"v":0.1},{"x":41,"y":19,"v":0.05},{"x":42,"y":19,"v":0.09},{"x":43,"y":19,"v":0.14},{"x":44,"y":19,"v":0.13},{"x":45,"y":19,"v":0.065},{"x":46,"y":19,"v":0.02},{"x":47,"y":19,"v":0.09},{"x":48,"y":19,"v":0.14},{"x":49,"y":19,"v":0.155},
{"x":0,"y":20,"v":0.169},{"x":1,"y":20,"v":0.27},{"x":2,"y":20,"v":0.07},{"x":3,"y":20,"v":0.11},{"x":4,"y":20,"v":0.12},{"x":5,"y":20,"v":0.1},{"x":6,"y":20,"v":0.11},{"x":7,"y":20,"v":0.1},{"x":8,"y":20,"v":0.09},{"x":9,"y":20,"v":0.155},{"x":10,"y":20,"v":0.05},{"x":11,"y":20,"v":0.13},{"x":12,"y":20,"v":0.01},{"x":13,"y":20,"v":0.12},{"x":14,"y":20,"v":0.13},{"x":15,"y":20,"v":0.12},{"x":16,"y":20,"v":0.13},{"x":17,"y":20,"v":0.01},{"x":18,"y":20,"v":0.09},{"x":19,"y":20,"v":0.1},{"x":20,"y":20,"v":0.09},{"x":21,"y":20,"v":0.12},{"x":22,"y":20,"v":0.05},{"x":23,"y":20,"v":0.065},{"x":24,"y":20,"v":0.12},{"x":25,"y":20,"v":0.065},{"x":26,"y":20,"v":0.065},{"x":27,"y":20,"v":0.04},{"x":28,"y":20,"v":0.12},{"x":29,"y":20,"v":0.065},{"x":30,"y":20,"v":0.12},{"x":31,"y":20,"v":0.13},{"x":32,"y":20,"v":0.02},{"x":33,"y":20,"v":0.065},{"x":34,"y":20,"v":0.1},{"x":35,"y":20,"v":0.12},{"x":36,"y":20,"v":0.09},{"x":37,"y":20,"v":0.05},{"x":38,"y":20,"v":0.04},{"x":39,"y":20,"v":0.12},{"x":40,"y":20,"v":0.1},{"x":41,"y":20,"v":0.065},{"x":42,"y":20,"v":0.05},{"x":43,"y":20,"v":0.13},{"x":44,"y":20,"v":0.13},{"x":45,"y":20,"v":0.12},{"x":46,"y":20,"v":0.065},{"x":47,"y":20,"v":0.12},{"x":48,"y":20,"v":0.01},{"x":49,"y":20,"v":0.13},
{"x":0,"y":21,"v":0.138},{"x":1,"y":21,"v":0.258},{"x":2,"y":21,"v":0.12},{"x":3,"y":21,"v":0.06},{"x":4,"y":21,"v":0.15},{"x":5,"y":21,"v":0.03},{"x":6,"y":21,"v":0.13},{"x":7,"y":21,"v":0.01},{"x":8,"y":21,"v":0.14},{"x":9,"y":21,"v":0.12},{"x":10,"y":21,"v":0.05},{"x":11,"y":21,"v":0.1},{"x":12,"y":21,"v":0.12},{"x":13,"y":21,"v":0.05},{"x":14,"y":21,"v":0.065},{"x":15,"y":21,"v":0.12},{"x":16,"y":21,"v":0.065},{"x":17,"y":21,"v":0.1},{"x":18,"y":21,"v":0.13},{"x":19,"y":21,"v":0.05},{"x":20,"y":21,"v":0.12},{"x":21,"y":21,"v":0.1},{"x":22,"y":21,"v":0.1},{"x":23,"y":21,"v":0.1},{"x":24,"y":21,"v":0.065},{"x":25,"y":21,"v":0.13},{"x":26,"y":21,"v":0.12},{"x":27,"y":21,"v":0.03},{"x":28,"y":21,"v":0.13},{"x":29,"y":21,"v":0.12},{"x":30,"y":21,"v":0.05},{"x":31,"y":21,"v":0.12},{"x":32,"y":21,"v":0.13},{"x":33,"y":21,"v":0.13},{"x":34,"y":21,"v":0.09},{"x":35,"y":21,"v":0.12},{"x":36,"y":21,"v":0.12},{"x":37,"y":21,"v":0.03},{"x":38,"y":21,"v":0.1},{"x":39,"y":21,"v":0.1},{"x":40,"y":21,"v":0.1},{"x":41,"y":21,"v":0.01},{"x":42,"y":21,"v":0.1},{"x":43,"y":21,"v":0.12},{"x":44,"y":21,"v":0.12},{"x":45,"y":21,"v":0.03},{"x":46,"y":21,"v":0.12},{"x":47,"y":21,"v":0.13},{"x":48,"y":21,"v":0.13},{"x":49,"y":21,"v":0.12},
{"x":0,"y":22,"v":0.11},{"x":1,"y":22,"v":0.235},{"x":2,"y":22,"v":0.17},{"x":3,"y":22,"v":0.01},{"x":4,"y":22,"v":0.15},{"x":5,"y":22,"v":0.06},{"x":6,"y":22,"v":0.11},{"x":7,"y":22,"v":0.08},{"x":8,"y":22,"v":0.1},{"x":9,"y":22,"v":0.03},{"x":10,"y":22,"v":0.12},{"x":11,"y":22,"v":0.03},{"x":12,"y":22,"v":0.12},{"x":13,"y":22,"v":0.01},{"x":14,"y":22,"v":0.03},{"x":15,"y":22,"v":0.065},{"x":16,"y":22,"v":0.04},{"x":17,"y":22,"v":0.13},{"x":18,"y":22,"v":0.09},{"x":19,"y":22,"v":0.12},{"x":20,"y":22,"v":0.05},{"x":21,"y":22,"v":0.1},{"x":22,"y":22,"v":0.1},{"x":23,"y":22,"v":0.01},{"x":24,"y":22,"v":0.065},{"x":25,"y":22,"v":0.13},{"x":26,"y":22,"v":0.01},{"x":27,"y":22,"v":0.1},{"x":28,"y":22,"v":0.12},{"x":29,"y":22,"v":0.01},{"x":30,"y":22,"v":0.12},{"x":31,"y":22,"v":0.065},{"x":32,"y":22,"v":0.03},{"x":33,"y":22,"v":0.12},{"x":34,"y":22,"v":0.09},{"x":35,"y":22,"v":0.05},{"x":36,"y":22,"v":0.1},{"x":37,"y":22,"v":0.12},{"x":38,"y":22,"v":0.13},{"x":39,"y":22,"v":0.01},{"x":40,"y":22,"v":0.09},{"x":41,"y":22,"v":0.12},{"x":42,"y":22,"v":0.05},{"x":43,"y":22,"v":0.02},{"x":44,"y":22,"v":0.09},{"x":45,"y":22,"v":0.13},{"x":46,"y":22,"v":0.13},{"x":47,"y":22,"v":0.01},{"x":48,"y":22,"v":0.09},{"x":49,"y":22,"v":0.12},
{"x":0,"y":23,"v":0.086},{"x":1,"y":23,"v":0.206},{"x":2,"y":23,"v":0.2},{"x":3,"y":23,"v":0.06},{"x":4,"y":23,"v":0.12},{"x":5,"y":23,"v":0.13},{"x":6,"y":23,"v":0.07},{"x":7,"y":23,"v":0.12},{"x":8,"y":23,"v":0.05},{"x":9,"y":23,"v":0.065},{"x":10,"y":23,"v":0.12},{"x":11,"y":23,"v":0.1},{"x":12,"y":23,"v":0.05},{"x":13,"y":23,"v":0.12},{"x":14,"y":23,"v":0.12},{"x":15,"y":23,"v":0.04},{"x":16,"y":23,"v":0.12},{"x":17,"y":23,"v":0.01},{"x":18,"y":23,"v":0.04},{"x":19,"y":23,"v":0.12},{"x":20,"y":23,"v":0.065},{"x":21,"y":23,"v":0.1},{"x":22,"y":23,"v":0.01},{"x":23,"y":23,"v":0.1},{"x":24,"y":23,"v":0.1},{"x":25,"y":23,"v":0.03},{"x":26,"y":23,"v":0.13},{"x":27,"y":23,"v":0.05},{"x":28,"y":23,"v":0.05},{"x":29,"y":23,"v":0.14},{"x":30,"y":23,"v":0.09},{"x":31,"y":23,"v":0.04},{"x":32,"y":23,"v":0.13},{"x":33,"y":23,"v":0.03},{"x":34,"y":23,"v":0.03},{"x":35,"y":23,"v":0.12},{"x":36,"y":23,"v":0.13},{"x":37,"y":23,"v":0.02},{"x":38,"y":23,"v":0.09},{"x":39,"y":23,"v":0.12},{"x":40,"y":23,"v":0.05},{"x":41,"y":23,"v":0.03},{"x":42,"y":23,"v":0.13},{"x":43,"y":23,"v":0.13},{"x":44,"y":23,"v":0.065},{"x":45,"y":23,"v":0.05},{"x":46,"y":23,"v":0.09},{"x":47,"y":23,"v":0.12},{"x":48,"y":23,"v":0.05},{"x":49,"y":23,"v":0.03},
{"x":0,"y":24,"v":0.066},{"x":1,"y":24,"v":0.175},{"x":2,"y":24,"v":0.23},{"x":3,"y":24,"v":0.11},{"x":4,"y":24,"v":0.08},{"x":5,"y":24,"v":0.15},{"x":6,"y":24,"v":0.01},{"x":7,"y":24,"v":0.13},{"x":8,"y":24,"v":0.04},{"x":9,"y":24,"v":0.09},{"x":10,"y":24,"v":0.065},{"x":11,"y":24,"v":0.1},{"x":12,"y":24,"v":0.01},{"x":13,"y":24,"v":0.1},{"x":14,"y":24,"v":0.01},{"x":15,"y":24,"v":0.12},{"x":16,"y":24,"v":0.12},{"x":17,"y":24,"v":0.09},{"x":18,"y":24,"v":0.12},{"x":19,"y":24,"v":0.065},{"x":20,"y":24,"v":0.12},{"x":21,"y":24,"v":0.065},{"x":22,"y":24,"v":0.065},{"x":23,"y":24,"v":0.1},{"x":24,"y":24,"v":0.02},{"x":25,"y":24,"v":0.1},{"x":26,"y":24,"v":0.065},{"x":27,"y":24,"v":0.065},{"x":28,"y":24,"v":0.13},{"x":29,"y":24,"v":0.05},{"x":30,"y":24,"v":0.09},{"x":31,"y":24,"v":0.13},{"x":32,"y":24,"v":0.04},{"x":33,"y":24,"v":0.065},{"x":34,"y":24,"v":0.09},{"x":35,"y":24,"v":0.09},{"x":36,"y":24,"v":0.05},{"x":37,"y":24,"v":0.13},{"x":38,"y":24,"v":0.05},{"x":39,"y":24,"v":0.01},{"x":40,"y":24,"v":0.12},{"x":41,"y":24,"v":0.1},{"x":42,"y":24,"v":0.05},{"x":43,"y":24,"v":0.065},{"x":44,"y":24,"v":0.12},{"x":45,"y":24,"v":0.1},{"x":46,"y":24,"v":0.04},{"x":47,"y":24,"v":0.12},{"x":48,"y":24,"v":0.1},{"x":49,"y":24,"v":0.065},
{"x":0,"y":25,"v":0.049},{"x":1,"y":25,"v":0.144},{"x":2,"y":25,"v":0.24},{"x":3,"y":25,"v":0.14},{"x":4,"y":25,"v":0.02},{"x":5,"y":25,"v":0.15},{"x":6,"y":25,"v":0.1},{"x":7,"y":25,"v":0.11},{"x":8,"y":25,"v":0.18},{"x":9,"y":25,"v":0.04},{"x":10,"y":25,"v":0.12},{"x":11,"y":25,"v":0.14},{"x":12,"y":25,"v":0.13},{"x":13,"y":25,"v":0.12},{"x":14,"y":25,"v":0.13},{"x":15,"y":25,"v":0.14},{"x":16,"y":25,"v":0.05},{"x":17,"y":25,"v":0.12},{"x":18,"y":25,"v":0.01},{"x":19,"y":25,"v":0.13},{"x":20,"y":25,"v":0.065},{"x":21,"y":25,"v":0.13},{"x":22,"y":25,"v":0.13},{"x":23,"y":25,"v":0.03},{"x":24,"y":25,"v":0.1},{"x":25,"y":25,"v":0.13},{"x":26,"y":25,"v":0.09},{"x":27,"y":25,"v":0.13},{"x":28,"y":25,"v":0.01},{"x":29,"y":25,"v":0.1},{"x":30,"y":25,"v":0.12},{"x":31,"y":25,"v":0.01},{"x":32,"y":25,"v":0.1},{"x":33,"y":25,"v":0.1},{"x":34,"y":25,"v":0.01},{"x":35,"y":25,"v":0.09},{"x":36,"y":25,"v":0.12},{"x":37,"y":25,"v":0.01},{"x":38,"y":25,"v":0.1},{"x":39,"y":25,"v":0.09},{"x":40,"y":25,"v":0.065},{"x":41,"y":25,"v":0.12},{"x":42,"y":25,"v":0.13},{"x":43,"y":25,"v":0.1},{"x":44,"y":25,"v":0.01},{"x":45,"y":25,"v":0.12},{"x":46,"y":25,"v":0.065},{"x":47,"y":25,"v":0.1},{"x":48,"y":25,"v":0.01},{"x":49,"y":25,"v":0.09},
{"x":0,"y":26,"v":0.036},{"x":1,"y":26,"v":0.115},{"x":2,"y":26,"v":0.2},{"x":3,"y":26,"v":0.2},{"x":4,"y":26,"v":0.06},{"x":5,"y":26,"v":0.13},{"x":6,"y":26,"v":0.14},{"x":7,"y":26,"v":0.05},{"x":8,"y":26,"v":0.17},{"x":9,"y":26,"v":0.01},{"x":10,"y":26,"v":0.155},{"x":11,"y":26,"v":0.03},{"x":12,"y":26,"v":0.18},{"x":13,"y":26,"v":0.03},{"x":14,"y":26,"v":0.155},{"x":15,"y":26,"v":0.02},{"x":16,"y":26,"v":0.12},{"x":17,"y":26,"v":0.09},{"x":18,"y":26,"v":0.14},{"x":19,"y":26,"v":0.13},{"x":20,"y":26,"v":0.065},{"x":21,"y":26,"v":0.12},{"x":22,"y":26,"v":0.01},{"x":23,"y":26,"v":0.13},{"x":24,"y":26,"v":0.065},{"x":25,"y":26,"v":0.09},{"x":26,"y":26,"v":0.1},{"x":27,"y":26,"v":0.01},{"x":28,"y":26,"v":0.12},{"x":29,"y":26,"v":0.065},{"x":30,"y":26,"v":0.01},{"x":31,"y":26,"v":0.13},{"x":32,"y":26,"v":0.1},{"x":33,"y":26,"v":0.04},{"x":34,"y":26,"v":0.12},{"x":35,"y":26,"v":0.09},{"x":36,"y":26,"v":0.04},{"x":37,"y":26,"v":0.12},{"x":38,"y":26,"v":0.1},{"x":39,"y":26,"v":0.01},{"x":40,"y":26,"v":0.09},{"x":41,"y":26,"v":0.1},{"x":42,"y":26,"v":0.04},{"x":43,"y":26,"v":0.12},{"x":44,"y":26,"v":0.09},{"x":45,"y":26,"v":0.12},{"x":46,"y":26,"v":0.01},{"x":47,"y":26,"v":0.12},{"x":48,"y":26,"v":0.13},{"x":49,"y":26,"v":0.1},
{"x":0,"y":27,"v":0.026},{"x":1,"y":27,"v":0.09},{"x":2,"y":27,"v":0.17},{"x":3,"y":27,"v":0.23},{"x":4,"y":27,"v":0.07},{"x":5,"y":27,"v":0.08},{"x":6,"y":27,"v":0.16},{"x":7,"y":27,"v":0.07},{"x":8,"y":27,"v":0.14},{"x":9,"y":27,"v":0.1},{"x":10,"y":27,"v":0.1},{"x":11,"y":27,"v":0.13},{"x":12,"y":27,"v":0.12},{"x":13,"y":27,"v":0.155},{"x":14,"y":27,"v":0.1},{"x":15,"y":27,"v":0.065},{"x":16,"y":27,"v":0.13},{"x":17,"y":27,"v":0.12},{"x":18,"y":27,"v":0.13},{"x":19,"y":27,"v":0.05},{"x":20,"y":27,"v":0.04},{"x":21,"y":27,"v":0.03},{"x":22,"y":27,"v":0.1},{"x":23,"y":27,"v":0.05},{"x":24,"y":27,"v":0.065},{"x":25,"y":27,"v":0.13},{"x":26,"y":27,"v":0.01},{"x":27,"y":27,"v":0.1},{"x":28,"y":27,"v":0.12},{"x":29,"y":27,"v":0.04},{"x":30,"y":27,"v":0.1},{"x":31,"y":27,"v":0.12},{"x":32,"y":27,"v":0.09},{"x":33,"y":27,"v":0.05},{"x":34,"y":27,"v":0.12},{"x":35,"y":27,"v":0.1},{"x":36,"y":27,"v":0.1},{"x":37,"y":27,"v":0.09},{"x":38,"y":27,"v":0.04},{"x":39,"y":27,"v":0.1},{"x":40,"y":27,"v":0.1},{"x":41,"y":27,"v":0.09},{"x":42,"y":27,"v":0.1},{"x":43,"y":27,"v":0.12},{"x":44,"y":27,"v":0.01},{"x":45,"y":27,"v":0.09},{"x":46,"y":27,"v":0.1},{"x":47,"y":27,"v":0.065},{"x":48,"y":27,"v":0.065},{"x":49,"y":27,"v":0.05},
{"x":0,"y":28,"v":0.018},{"x":1,"y":28,"v":0.068},{"x":2,"y":28,"v":0.15},{"x":3,"y":28,"v":0.23},{"x":4,"y":28,"v":0.15},{"x":5,"y":28,"v":0.02},{"x":6,"y":28,"v":0.14},{"x":7,"y":28,"v":0.16},{"x":8,"y":28,"v":0.1},{"x":9,"y":28,"v":0.18},{"x":10,"y":28,"v":0.04},{"x":11,"y":28,"v":0.12},{"x":12,"y":28,"v":0.01},{"x":13,"y":28,"v":0.1},{"x":14,"y":28,"v":0.02},{"x":15,"y":28,"v":0.155},{"x":16,"y":28,"v":0.01},{"x":17,"y":28,"v":0.13},{"x":18,"y":28,"v":0.04},{"x":19,"y":28,"v":0.13},{"x":20,"y":28,"v":0.12},{"x":21,"y":28,"v":0.13},{"x":22,"y":28,"v":0.12},{"x":23,"y":28,"v":0.05},{"x":24,"y":28,"v":0.13},{"x":25,"y":28,"v":0.01},{"x":26,"y":28,"v":0.12},{"x":27,"y":28,"v":0.12},{"x":28,"y":28,"v":0.03},{"x":29,"y":28,"v":0.12},{"x":30,"y":28,"v":0.13},{"x":31,"y":28,"v":0.09},{"x":32,"y":28,"v":0.12},{"x":33,"y":28,"v":0.01},{"x":34,"y":28,"v":0.1},{"x":35,"y":28,"v":0.12},{"x":36,"y":28,"v":0.01},{"x":37,"y":28,"v":0.09},{"x":38,"y":28,"v":0.1},{"x":39,"y":28,"v":0.01},{"x":40,"y":28,"v":0.12},{"x":41,"y":28,"v":0.09},{"x":42,"y":28,"v":0.12},{"x":43,"y":28,"v":0.1},{"x":44,"y":28,"v":0.05},{"x":45,"y":28,"v":0.12},{"x":46,"y":28,"v":0.09},{"x":47,"y":28,"v":0.1},{"x":48,"y":28,"v":0.09},{"x":49,"y":28,"v":0.02},
{"x":0,"y":29,"v":0.013},{"x":1,"y":29,"v":0.051},{"x":2,"y":29,"v":0.13},{"x":3,"y":29,"v":0.2},{"x":4,"y":29,"v":0.18},{"x":5,"y":29,"v":0.06},{"x":6,"y":29,"v":0.11},{"x":7,"y":29,"v":0.16},{"x":8,"y":29,"v":0.01},{"x":9,"y":29,"v":0.17},{"x":10,"y":29,"v":0.13},{"x":11,"y":29,"v":0.05},{"x":12,"y":29,"v":0.1},{"x":13,"y":29,"v":0.155},{"x":14,"y":29,"v":0.155},{"x":15,"y":29,"v":0.09},{"x":16,"y":29,"v":0.1},{"x":17,"y":29,"v":0.1},{"x":18,"y":29,"v":0.12},{"x":19,"y":29,"v":0.13},{"x":20,"y":29,"v":0.065},{"x":21,"y":29,"v":0.12},{"x":22,"y":29,"v":0.01},{"x":23,"y":29,"v":0.14},{"x":24,"y":29,"v":0.05},{"x":25,"y":29,"v":0.1},{"x":26,"y":29,"v":0.065},{"x":27,"y":29,"v":0.04},{"x":28,"y":29,"v":0.12},{"x":29,"y":29,"v":0.1},{"x":30,"y":29,"v":0.1},{"x":31,"y":29,"v":0.065},{"x":32,"y":29,"v":0.01},{"x":33,"y":29,"v":0.12},{"x":34,"y":29,"v":0.1},{"x":35,"y":29,"v":0.03},{"x":36,"y":29,"v":0.12},{"x":37,"y":29,"v":0.1},{"x":38,"y":29,"v":0.03},{"x":39,"y":29,"v":0.1},{"x":40,"y":29,"v":0.12},{"x":41,"y":29,"v":0.03},{"x":42,"y":29,"v":0.12},{"x":43,"y":29,"v":0.1},{"x":44,"y":29,"v":0.01},{"x":45,"y":29,"v":0.1},{"x":46,"y":29,"v":0.09},{"x":47,"y":29,"v":0.01},{"x":48,"y":29,"v":0.12},{"x":49,"y":29,"v":0.065},
{"x":0,"y":30,"v":0.009},{"x":1,"y":30,"v":0.037},{"x":2,"y":30,"v":0.11},{"x":3,"y":30,"v":0.17},{"x":4,"y":30,"v":0.2},{"x":5,"y":30,"v":0.11},{"x":6,"y":30,"v":0.05},{"x":7,"y":30,"v":0.16},{"x":8,"y":30,"v":0.1},{"x":9,"y":30,"v":0.14},{"x":10,"y":30,"v":0.1},{"x":11,"y":30,"v":0.04},{"x":12,"y":30,"v":0.155},{"x":13,"y":30,"v":0.01},{"x":14,"y":30,"v":0.1},{"x":15,"y":30,"v":0.02},{"x":16,"y":30,"v":0.14},{"x":17,"y":30,"v":0.01},{"x":18,"y":30,"v":0.13},{"x":19,"y":30,"v":0.01},{"x":20,"y":30,"v":0.12},{"x":21,"y":30,"v":0.05},{"x":22,"y":30,"v":0.12},{"x":23,"y":30,"v":0.09},{"x":24,"y":30,"v":0.09},{"x":25,"y":30,"v":0.12},{"x":26,"y":30,"v":0.01},{"x":27,"y":30,"v":0.1},{"x":28,"y":30,"v":0.13},{"x":29,"y":30,"v":0.1},{"x":30,"y":30,"v":0.09},{"x":31,"y":30,"v":0.01},{"x":32,"y":30,"v":0.1},{"x":33,"y":30,"v":0.1},{"x":34,"y":30,"v":0.1},{"x":35,"y":30,"v":0.09},{"x":36,"y":30,"v":0.1},{"x":37,"y":30,"v":0.12},{"x":38,"y":30,"v":0.09},{"x":39,"y":30,"v":0.1},{"x":40,"y":30,"v":0.1},{"x":41,"y":30,"v":0.1},{"x":42,"y":30,"v":0.09},{"x":43,"y":30,"v":0.12},{"x":44,"y":30,"v":0.09},{"x":45,"y":30,"v":0.1},{"x":46,"y":30,"v":0.1},{"x":47,"y":30,"v":0.09},{"x":48,"y":30,"v":0.1},{"x":49,"y":30,"v":0.02},
{"x":0,"y":31,"v":0.006},{"x":1,"y":31,"v":0.026},{"x":2,"y":31,"v":0.09},{"x":3,"y":31,"v":0.15},{"x":4,"y":31,"v":0.22},{"x":5,"y":31,"v":0.17},{"x":6,"y":31,"v":0.02},{"x":7,"y":31,"v":0.14},{"x":8,"y":31,"v":0.18},{"x":9,"y":31,"v":0.04},{"x":10,"y":31,"v":0.14},{"x":11,"y":31,"v":0.04},{"x":12,"y":31,"v":0.17},{"x":13,"y":31,"v":0.13},{"x":14,"y":31,"v":0.155},{"x":15,"y":31,"v":0.14},{"x":16,"y":31,"v":0.05},{"x":17,"y":31,"v":0.13},{"x":18,"y":31,"v":0.04},{"x":19,"y":31,"v":0.12},{"x":20,"y":31,"v":0.13},{"x":21,"y":31,"v":0.12},{"x":22,"y":31,"v":0.065},{"x":23,"y":31,"v":0.04},{"x":24,"y":31,"v":0.13},{"x":25,"y":31,"v":0.01},{"x":26,"y":31,"v":0.13},{"x":27,"y":31,"v":0.12},{"x":28,"y":31,"v":0.09},{"x":29,"y":31,"v":0.065},{"x":30,"y":31,"v":0.01},{"x":31,"y":31,"v":0.12},{"x":32,"y":31,"v":0.09},{"x":33,"y":31,"v":0.1},{"x":34,"y":31,"v":0.12},{"x":35,"y":31,"v":0.01},{"x":36,"y":31,"v":0.1},{"x":37,"y":31,"v":0.1},{"x":38,"y":31,"v":0.01},{"x":39,"y":31,"v":0.1},{"x":40,"y":31,"v":0.12},{"x":41,"y":31,"v":0.01},{"x":42,"y":31,"v":0.1},{"x":43,"y":31,"v":0.1},{"x":44,"y":31,"v":0.01},{"x":45,"y":31,"v":0.12},{"x":46,"y":31,"v":0.09},{"x":47,"y":31,"v":0.01},{"x":48,"y":31,"v":0.12},{"x":49,"y":31,"v":0.09},
{"x":0,"y":32,"v":0.004},{"x":1,"y":32,"v":0.018},{"x":2,"y":32,"v":0.075},{"x":3,"y":32,"v":0.13},{"x":4,"y":32,"v":0.22},{"x":5,"y":32,"v":0.18},{"x":6,"y":32,"v":0.03},{"x":7,"y":32,"v":0.09},{"x":8,"y":32,"v":0.2},{"x":9,"y":32,"v":0.05},{"x":10,"y":32,"v":0.065},{"x":11,"y":32,"v":0.155},{"x":12,"y":32,"v":0.05},{"x":13,"y":32,"v":0.17},{"x":14,"y":32,"v":0.01},{"x":15,"y":32,"v":0.12},{"x":16,"y":32,"v":0.1},{"x":17,"y":32,"v":0.1},{"x":18,"y":32,"v":0.14},{"x":19,"y":32,"v":0.1},{"x":20,"y":32,"v":0.02},{"x":21,"y":32,"v":0.13},{"x":22,"y":32,"v":0.03},{"x":23,"y":32,"v":0.13},{"x":24,"y":32,"v":0.04},{"x":25,"y":32,"v":0.1},{"x":26,"y":32,"v":0.1},{"x":27,"y":32,"v":0.09},{"x":28,"y":32,"v":0.12},{"x":29,"y":32,"v":0.01},{"x":30,"y":32,"v":0.1},{"x":31,"y":32,"v":0.09},{"x":32,"y":32,"v":0.1},{"x":33,"y":32,"v":0.09},{"x":34,"y":32,"v":0.01},{"x":35,"y":32,"v":0.1},{"x":36,"y":32,"v":0.1},{"x":37,"y":32,"v":0.03},{"x":38,"y":32,"v":0.1},{"x":39,"y":32,"v":0.1},{"x":40,"y":32,"v":0.09},{"x":41,"y":32,"v":0.1},{"x":42,"y":32,"v":0.12},{"x":43,"y":32,"v":0.09},{"x":44,"y":32,"v":0.1},{"x":45,"y":32,"v":0.09},{"x":46,"y":32,"v":0.1},{"x":47,"y":32,"v":0.1},{"x":48,"y":32,"v":0.09},{"x":49,"y":32,"v":0.1},
{"x":0,"y":33,"v":0.003},{"x":1,"y":33,"v":0.013},{"x":2,"y":33,"v":0.06},{"x":3,"y":33,"v":0.11},{"x":4,"y":33,"v":0.2},{"x":5,"y":33,"v":0.2},{"x":6,"y":33,"v":0.07},{"x":7,"y":33,"v":0.02},{"x":8,"y":33,"v":0.19},{"x":9,"y":33,"v":0.17},{"x":10,"y":33,"v":0.05},{"x":11,"y":33,"v":0.18},{"x":12,"y":33,"v":0.05},{"x":13,"y":33,"v":0.155},{"x":14,"y":33,"v":0.12},{"x":15,"y":33,"v":0.155},{"x":16,"y":33,"v":0.155},{"x":17,"y":33,"v":0.065},{"x":18,"y":33,"v":0.14},{"x":19,"y":33,"v":0.05},{"x":20,"y":33,"v":0.065},{"x":21,"y":33,"v":0.13},{"x":22,"y":33,"v":0.12},{"x":23,"y":33,"v":0.03},{"x":24,"y":33,"v":0.065},{"x":25,"y":33,"v":0.1},{"x":26,"y":33,"v":0.04},{"x":27,"y":33,"v":0.09},{"x":28,"y":33,"v":0.01},{"x":29,"y":33,"v":0.12},{"x":30,"y":33,"v":0.1},{"x":31,"y":33,"v":0.09},{"x":32,"y":33,"v":0.09},{"x":33,"y":33,"v":0.01},{"x":34,"y":33,"v":0.1},{"x":35,"y":33,"v":0.12},{"x":36,"y":33,"v":0.09},{"x":37,"y":33,"v":0.1},{"x":38,"y":33,"v":0.04},{"x":39,"y":33,"v":0.1},{"x":40,"y":33,"v":0.12},{"x":41,"y":33,"v":0.01},{"x":42,"y":33,"v":0.1},{"x":43,"y":33,"v":0.09},{"x":44,"y":33,"v":0.01},{"x":45,"y":33,"v":0.12},{"x":46,"y":33,"v":0.09},{"x":47,"y":33,"v":0.01},{"x":48,"y":33,"v":0.1},{"x":49,"y":33,"v":0.1},
{"x":0,"y":34,"v":0.002},{"x":1,"y":34,"v":0.009},{"x":2,"y":34,"v":0.045},{"x":3,"y":34,"v":0.09},{"x":4,"y":34,"v":0.18},{"x":5,"y":34,"v":0.21},{"x":6,"y":34,"v":0.13},{"x":7,"y":34,"v":0.06},{"x":8,"y":34,"v":0.155},{"x":9,"y":34,"v":0.2},{"x":10,"y":34,"v":0.12},{"x":11,"y":34,"v":0.14},{"x":12,"y":34,"v":0.13},{"x":13,"y":34,"v":0.05},{"x":14,"y":34,"v":0.155},{"x":15,"y":34,"v":0.01},{"x":16,"y":34,"v":0.13},{"x":17,"y":34,"v":0.05},{"x":18,"y":34,"v":0.09},{"x":19,"y":34,"v":0.13},{"x":20,"y":34,"v":0.1},{"x":21,"y":34,"v":0.09},{"x":22,"y":34,"v":0.09},{"x":23,"y":34,"v":0.03},{"x":24,"y":34,"v":0.09},{"x":25,"y":34,"v":0.01},{"x":26,"y":34,"v":0.12},{"x":27,"y":34,"v":0.12},{"x":28,"y":34,"v":0.1},{"x":29,"y":34,"v":0.1},{"x":30,"y":34,"v":0.1},{"x":31,"y":34,"v":0.12},{"x":32,"y":34,"v":0.01},{"x":33,"y":34,"v":0.1},{"x":34,"y":34,"v":0.09},{"x":35,"y":34,"v":0.1},{"x":36,"y":34,"v":0.12},{"x":37,"y":34,"v":0.01},{"x":38,"y":34,"v":0.1},{"x":39,"y":34,"v":0.12},{"x":40,"y":34,"v":0.01},{"x":41,"y":34,"v":0.12},{"x":42,"y":34,"v":0.09},{"x":43,"y":34,"v":0.1},{"x":44,"y":34,"v":0.1},{"x":45,"y":34,"v":0.09},{"x":46,"y":34,"v":0.12},{"x":47,"y":34,"v":0.1},{"x":48,"y":34,"v":0.1},{"x":49,"y":34,"v":0.09},
{"x":0,"y":35,"v":0.001},{"x":1,"y":35,"v":0.006},{"x":2,"y":35,"v":0.035},{"x":3,"y":35,"v":0.075},{"x":4,"y":35,"v":0.15},{"x":5,"y":35,"v":0.22},{"x":6,"y":35,"v":0.18},{"x":7,"y":35,"v":0.1},{"x":8,"y":35,"v":0.05},{"x":9,"y":35,"v":0.2},{"x":10,"y":35,"v":0.17},{"x":11,"y":35,"v":0.04},{"x":12,"y":35,"v":0.18},{"x":13,"y":35,"v":0.04},{"x":14,"y":35,"v":0.155},{"x":15,"y":35,"v":0.12},{"x":16,"y":35,"v":0.155},{"x":17,"y":35,"v":0.12},{"x":18,"y":35,"v":0.05},{"x":19,"y":35,"v":0.13},{"x":20,"y":35,"v":0.12},{"x":21,"y":35,"v":0.12},{"x":22,"y":35,"v":0.05},{"x":23,"y":35,"v":0.12},{"x":24,"y":35,"v":0.09},{"x":25,"y":35,"v":0.09},{"x":26,"y":35,"v":0.09},{"x":27,"y":35,"v":0.1},{"x":28,"y":35,"v":0.12},{"x":29,"y":35,"v":0.03},{"x":30,"y":35,"v":0.1},{"x":31,"y":35,"v":0.01},{"x":32,"y":35,"v":0.1},{"x":33,"y":35,"v":0.12},{"x":34,"y":35,"v":0.1},{"x":35,"y":35,"v":0.09},{"x":36,"y":35,"v":0.01},{"x":37,"y":35,"v":0.1},{"x":38,"y":35,"v":0.1},{"x":39,"y":35,"v":0.1},{"x":40,"y":35,"v":0.09},{"x":41,"y":35,"v":0.12},{"x":42,"y":35,"v":0.1},{"x":43,"y":35,"v":0.1},{"x":44,"y":35,"v":0.01},{"x":45,"y":35,"v":0.12},{"x":46,"y":35,"v":0.09},{"x":47,"y":35,"v":0.01},{"x":48,"y":35,"v":0.12},{"x":49,"y":35,"v":0.09},
{"x":0,"y":36,"v":0.001},{"x":1,"y":36,"v":0.004},{"x":2,"y":36,"v":0.025},{"x":3,"y":36,"v":0.06},{"x":4,"y":36,"v":0.13},{"x":5,"y":36,"v":0.2},{"x":6,"y":36,"v":0.21},{"x":7,"y":36,"v":0.16},{"x":8,"y":36,"v":0.05},{"x":9,"y":36,"v":0.155},{"x":10,"y":36,"v":0.155},{"x":11,"y":36,"v":0.12},{"x":12,"y":36,"v":0.155},{"x":13,"y":36,"v":0.1},{"x":14,"y":36,"v":0.065},{"x":15,"y":36,"v":0.155},{"x":16,"y":36,"v":0.02},{"x":17,"y":36,"v":0.14},{"x":18,"y":36,"v":0.14},{"x":19,"y":36,"v":0.05},{"x":20,"y":36,"v":0.09},{"x":21,"y":36,"v":0.12},{"x":22,"y":36,"v":0.1},{"x":23,"y":36,"v":0.13},{"x":24,"y":36,"v":0.05},{"x":25,"y":36,"v":0.12},{"x":26,"y":36,"v":0.04},{"x":27,"y":36,"v":0.1},{"x":28,"y":36,"v":0.01},{"x":29,"y":36,"v":0.12},{"x":30,"y":36,"v":0.1},{"x":31,"y":36,"v":0.1},{"x":32,"y":36,"v":0.1},{"x":33,"y":36,"v":0.09},{"x":34,"y":36,"v":0.12},{"x":35,"y":36,"v":0.01},{"x":36,"y":36,"v":0.1},{"x":37,"y":36,"v":0.12},{"x":38,"y":36,"v":0.1},{"x":39,"y":36,"v":0.09},{"x":40,"y":36,"v":0.01},{"x":41,"y":36,"v":0.1},{"x":42,"y":36,"v":0.1},{"x":43,"y":36,"v":0.01},{"x":44,"y":36,"v":0.12},{"x":45,"y":36,"v":0.1},{"x":46,"y":36,"v":0.09},{"x":47,"y":36,"v":0.12},{"x":48,"y":36,"v":0.1},{"x":49,"y":36,"v":0.09},
{"x":0,"y":37,"v":0},{"x":1,"y":37,"v":0.002},{"x":2,"y":37,"v":0.018},{"x":3,"y":37,"v":0.045},{"x":4,"y":37,"v":0.11},{"x":5,"y":37,"v":0.17},{"x":6,"y":37,"v":0.22},{"x":7,"y":37,"v":0.19},{"x":8,"y":37,"v":0.1},{"x":9,"y":37,"v":0.065},{"x":10,"y":37,"v":0.13},{"x":11,"y":37,"v":0.155},{"x":12,"y":37,"v":0.05},{"x":13,"y":37,"v":0.17},{"x":14,"y":37,"v":0.05},{"x":15,"y":37,"v":0.14},{"x":16,"y":37,"v":0.12},{"x":17,"y":37,"v":0.12},{"x":18,"y":37,"v":0.14},{"x":19,"y":37,"v":0.1},{"x":20,"y":37,"v":0.05},{"x":21,"y":37,"v":0.03},{"x":22,"y":37,"v":0.12},{"x":23,"y":37,"v":0.02},{"x":24,"y":37,"v":0.13},{"x":25,"y":37,"v":0.01},{"x":26,"y":37,"v":0.12},{"x":27,"y":37,"v":0.09},{"x":28,"y":37,"v":0.09},{"x":29,"y":37,"v":0.1},{"x":30,"y":37,"v":0.12},{"x":31,"y":37,"v":0.1},{"x":32,"y":37,"v":0.03},{"x":33,"y":37,"v":0.1},{"x":34,"y":37,"v":0.01},{"x":35,"y":37,"v":0.1},{"x":36,"y":37,"v":0.12},{"x":37,"y":37,"v":0.09},{"x":38,"y":37,"v":0.1},{"x":39,"y":37,"v":0.01},{"x":40,"y":37,"v":0.1},{"x":41,"y":37,"v":0.1},{"x":42,"y":37,"v":0.09},{"x":43,"y":37,"v":0.12},{"x":44,"y":37,"v":0.1},{"x":45,"y":37,"v":0.09},{"x":46,"y":37,"v":0.1},{"x":47,"y":37,"v":0.1},{"x":48,"y":37,"v":0.09},{"x":49,"y":37,"v":0.09},
{"x":0,"y":38,"v":0},{"x":1,"y":38,"v":0.001},{"x":2,"y":38,"v":0.012},{"x":3,"y":38,"v":0.035},{"x":4,"y":38,"v":0.09},{"x":5,"y":38,"v":0.15},{"x":6,"y":38,"v":0.2},{"x":7,"y":38,"v":0.21},{"x":8,"y":38,"v":0.155},{"x":9,"y":38,"v":0.02},{"x":10,"y":38,"v":0.04},{"x":11,"y":38,"v":0.17},{"x":12,"y":38,"v":0.02},{"x":13,"y":38,"v":0.17},{"x":14,"y":38,"v":0.1},{"x":15,"y":38,"v":0.04},{"x":16,"y":38,"v":0.14},{"x":17,"y":38,"v":0.02},{"x":18,"y":38,"v":0.09},{"x":19,"y":38,"v":0.13},{"x":20,"y":38,"v":0.04},{"x":21,"y":38,"v":0.1},{"x":22,"y":38,"v":0.13},{"x":23,"y":38,"v":0.09},{"x":24,"y":38,"v":0.05},{"x":25,"y":38,"v":0.1},{"x":26,"y":38,"v":0.12},{"x":27,"y":38,"v":0.04},{"x":28,"y":38,"v":0.1},{"x":29,"y":38,"v":0.03},{"x":30,"y":38,"v":0.1},{"x":31,"y":38,"v":0.01},{"x":32,"y":38,"v":0.1},{"x":33,"y":38,"v":0.04},{"x":34,"y":38,"v":0.1},{"x":35,"y":38,"v":0.1},{"x":36,"y":38,"v":0.09},{"x":37,"y":38,"v":0.1},{"x":38,"y":38,"v":0.01},{"x":39,"y":38,"v":0.1},{"x":40,"y":38,"v":0.1},{"x":41,"y":38,"v":0.09},{"x":42,"y":38,"v":0.1},{"x":43,"y":38,"v":0.04},{"x":44,"y":38,"v":0.12},{"x":45,"y":38,"v":0.1},{"x":46,"y":38,"v":0.01},{"x":47,"y":38,"v":0.1},{"x":48,"y":38,"v":0.1},{"x":49,"y":38,"v":0.09},
{"x":0,"y":39,"v":0},{"x":1,"y":39,"v":0.001},{"x":2,"y":39,"v":0.008},{"x":3,"y":39,"v":0.025},{"x":4,"y":39,"v":0.075},{"x":5,"y":39,"v":0.13},{"x":6,"y":39,"v":0.17},{"x":7,"y":39,"v":0.21},{"x":8,"y":39,"v":0.17},{"x":9,"y":39,"v":0.08},{"x":10,"y":39,"v":0.07},{"x":11,"y":39,"v":0.13},{"x":12,"y":39,"v":0.1},{"x":13,"y":39,"v":0.05},{"x":14,"y":39,"v":0.155},{"x":15,"y":39,"v":0.05},{"x":16,"y":39,"v":0.065},{"x":17,"y":39,"v":0.1},{"x":18,"y":39,"v":0.03},{"x":19,"y":39,"v":0.13},{"x":20,"y":39,"v":0.12},{"x":21,"y":39,"v":0.1},{"x":22,"y":39,"v":0.01},{"x":23,"y":39,"v":0.12},{"x":24,"y":39,"v":0.01},{"x":25,"y":39,"v":0.09},{"x":26,"y":39,"v":0.01},{"x":27,"y":39,"v":0.1},{"x":28,"y":39,"v":0.01},{"x":29,"y":39,"v":0.1},{"x":30,"y":39,"v":0.1},{"x":31,"y":39,"v":0.1},{"x":32,"y":39,"v":0.1},{"x":33,"y":39,"v":0.1},{"x":34,"y":39,"v":0.1},{"x":35,"y":39,"v":0.09},{"x":36,"y":39,"v":0.1},{"x":37,"y":39,"v":0.01},{"x":38,"y":39,"v":0.1},{"x":39,"y":39,"v":0.09},{"x":40,"y":39,"v":0.1},{"x":41,"y":39,"v":0.12},{"x":42,"y":39,"v":0.01},{"x":43,"y":39,"v":0.1},{"x":44,"y":39,"v":0.09},{"x":45,"y":39,"v":0.1},{"x":46,"y":39,"v":0.12},{"x":47,"y":39,"v":0.09},{"x":48,"y":39,"v":0.065},{"x":49,"y":39,"v":0.09},
{"x":0,"y":40,"v":0},{"x":1,"y":40,"v":0},{"x":2,"y":40,"v":0.005},{"x":3,"y":40,"v":0.018},{"x":4,"y":40,"v":0.06},{"x":5,"y":40,"v":0.11},{"x":6,"y":40,"v":0.14},{"x":7,"y":40,"v":0.18},{"x":8,"y":40,"v":0.22},{"x":9,"y":40,"v":0.14},{"x":10,"y":40,"v":0.01},{"x":11,"y":40,"v":0.09},{"x":12,"y":40,"v":0.14},{"x":13,"y":40,"v":0.01},{"x":14,"y":40,"v":0.17},{"x":15,"y":40,"v":0.12},{"x":16,"y":40,"v":0.065},{"x":17,"y":40,"v":0.13},{"x":18,"y":40,"v":0.12},{"x":19,"y":40,"v":0.1},{"x":20,"y":40,"v":0.1},{"x":21,"y":40,"v":0.1},{"x":22,"y":40,"v":0.09},{"x":23,"y":40,"v":0.05},{"x":24,"y":40,"v":0.12},{"x":25,"y":40,"v":0.065},{"x":26,"y":40,"v":0.09},{"x":27,"y":40,"v":0.1},{"x":28,"y":40,"v":0.12},{"x":29,"y":40,"v":0.12},{"x":30,"y":40,"v":0.1},{"x":31,"y":40,"v":0.12},{"x":32,"y":40,"v":0.09},{"x":33,"y":40,"v":0.1},{"x":34,"y":40,"v":0.01},{"x":35,"y":40,"v":0.1},{"x":36,"y":40,"v":0.01},{"x":37,"y":40,"v":0.1},{"x":38,"y":40,"v":0.1},{"x":39,"y":40,"v":0.1},{"x":40,"y":40,"v":0.09},{"x":41,"y":40,"v":0.01},{"x":42,"y":40,"v":0.1},{"x":43,"y":40,"v":0.12},{"x":44,"y":40,"v":0.09},{"x":45,"y":40,"v":0.1},{"x":46,"y":40,"v":0.1},{"x":47,"y":40,"v":0.09},{"x":48,"y":40,"v":0.09},{"x":49,"y":40,"v":0.02},
{"x":0,"y":41,"v":0},{"x":1,"y":41,"v":0},{"x":2,"y":41,"v":0.003},{"x":3,"y":41,"v":0.012},{"x":4,"y":41,"v":0.05},{"x":5,"y":41,"v":0.09},{"x":6,"y":41,"v":0.12},{"x":7,"y":41,"v":0.16},{"x":8,"y":41,"v":0.21},{"x":9,"y":41,"v":0.17},{"x":10,"y":41,"v":0.07},{"x":11,"y":41,"v":0.06},{"x":12,"y":41,"v":0.14},{"x":13,"y":41,"v":0.13},{"x":14,"y":41,"v":0.1},{"x":15,"y":41,"v":0.155},{"x":16,"y":41,"v":0.065},{"x":17,"y":41,"v":0.14},{"x":18,"y":41,"v":0.14},{"x":19,"y":41,"v":0.05},{"x":20,"y":41,"v":0.065},{"x":21,"y":41,"v":0.01},{"x":22,"y":41,"v":0.12},{"x":23,"y":41,"v":0.03},{"x":24,"y":41,"v":0.1},{"x":25,"y":41,"v":0.12},{"x":26,"y":41,"v":0.1},{"x":27,"y":41,"v":0.09},{"x":28,"y":41,"v":0.09},{"x":29,"y":41,"v":0.03},{"x":30,"y":41,"v":0.1},{"x":31,"y":41,"v":0.01},{"x":32,"y":41,"v":0.1},{"x":33,"y":41,"v":0.01},{"x":34,"y":41,"v":0.12},{"x":35,"y":41,"v":0.12},{"x":36,"y":41,"v":0.1},{"x":37,"y":41,"v":0.1},{"x":38,"y":41,"v":0.09},{"x":39,"y":41,"v":0.12},{"x":40,"y":41,"v":0.01},{"x":41,"y":41,"v":0.1},{"x":42,"y":41,"v":0.1},{"x":43,"y":41,"v":0.09},{"x":44,"y":41,"v":0.12},{"x":45,"y":41,"v":0.01},{"x":46,"y":41,"v":0.1},{"x":47,"y":41,"v":0.09},{"x":48,"y":41,"v":0.1},{"x":49,"y":41,"v":0.09},
{"x":0,"y":42,"v":0},{"x":1,"y":42,"v":0},{"x":2,"y":42,"v":0.002},{"x":3,"y":42,"v":0.008},{"x":4,"y":42,"v":0.035},{"x":5,"y":42,"v":0.08},{"x":6,"y":42,"v":0.1},{"x":7,"y":42,"v":0.14},{"x":8,"y":42,"v":0.19},{"x":9,"y":42,"v":0.2},{"x":10,"y":42,"v":0.14},{"x":11,"y":42,"v":0.02},{"x":12,"y":42,"v":0.11},{"x":13,"y":42,"v":0.18},{"x":14,"y":42,"v":0.02},{"x":15,"y":42,"v":0.155},{"x":16,"y":42,"v":0.14},{"x":17,"y":42,"v":0.05},{"x":18,"y":42,"v":0.155},{"x":19,"y":42,"v":0.09},{"x":20,"y":42,"v":0.05},{"x":21,"y":42,"v":0.1},{"x":22,"y":42,"v":0.05},{"x":23,"y":42,"v":0.13},{"x":24,"y":42,"v":0.05},{"x":25,"y":42,"v":0.13},{"x":26,"y":42,"v":0.04},{"x":27,"y":42,"v":0.1},{"x":28,"y":42,"v":0.12},{"x":29,"y":42,"v":0.12},{"x":30,"y":42,"v":0.09},{"x":31,"y":42,"v":0.1},{"x":32,"y":42,"v":0.12},{"x":33,"y":42,"v":0.09},{"x":34,"y":42,"v":0.09},{"x":35,"y":42,"v":0.1},{"x":36,"y":42,"v":0.1},{"x":37,"y":42,"v":0.09},{"x":38,"y":42,"v":0.1},{"x":39,"y":42,"v":0.01},{"x":40,"y":42,"v":0.1},{"x":41,"y":42,"v":0.1},{"x":42,"y":42,"v":0.09},{"x":43,"y":42,"v":0.1},{"x":44,"y":42,"v":0.01},{"x":45,"y":42,"v":0.1},{"x":46,"y":42,"v":0.1},{"x":47,"y":42,"v":0.09},{"x":48,"y":42,"v":0.09},{"x":49,"y":42,"v":0.1},
{"x":0,"y":43,"v":0},{"x":1,"y":43,"v":0},{"x":2,"y":43,"v":0.001},{"x":3,"y":43,"v":0.005},{"x":4,"y":43,"v":0.03},{"x":5,"y":43,"v":0.06},{"x":6,"y":43,"v":0.09},{"x":7,"y":43,"v":0.13},{"x":8,"y":43,"v":0.17},{"x":9,"y":43,"v":0.21},{"x":10,"y":43,"v":0.16},{"x":11,"y":43,"v":0.04},{"x":12,"y":43,"v":0.06},{"x":13,"y":43,"v":0.19},{"x":14,"y":43,"v":0.1},{"x":15,"y":43,"v":0.065},{"x":16,"y":43,"v":0.155},{"x":17,"y":43,"v":0.05},{"x":18,"y":43,"v":0.09},{"x":19,"y":43,"v":0.14},{"x":20,"y":43,"v":0.13},{"x":21,"y":43,"v":0.12},{"x":22,"y":43,"v":0.02},{"x":23,"y":43,"v":0.13},{"x":24,"y":43,"v":0.065},{"x":25,"y":43,"v":0.1},{"x":26,"y":43,"v":0.12},{"x":27,"y":43,"v":0.09},{"x":28,"y":43,"v":0.1},{"x":29,"y":43,"v":0.1},{"x":30,"y":43,"v":0.12},{"x":31,"y":43,"v":0.1},{"x":32,"y":43,"v":0.09},{"x":33,"y":43,"v":0.1},{"x":34,"y":43,"v":0.12},{"x":35,"y":43,"v":0.1},{"x":36,"y":43,"v":0.01},{"x":37,"y":43,"v":0.09},{"x":38,"y":43,"v":0.04},{"x":39,"y":43,"v":0.1},{"x":40,"y":43,"v":0.1},{"x":41,"y":43,"v":0.09},{"x":42,"y":43,"v":0.1},{"x":43,"y":43,"v":0.01},{"x":44,"y":43,"v":0.09},{"x":45,"y":43,"v":0.1},{"x":46,"y":43,"v":0.09},{"x":47,"y":43,"v":0.1},{"x":48,"y":43,"v":0.01},{"x":49,"y":43,"v":0.09},
{"x":0,"y":44,"v":0},{"x":1,"y":44,"v":0},{"x":2,"y":44,"v":0.001},{"x":3,"y":44,"v":0.004},{"x":4,"y":44,"v":0.02},{"x":5,"y":44,"v":0.05},{"x":6,"y":44,"v":0.07},{"x":7,"y":44,"v":0.11},{"x":8,"y":44,"v":0.15},{"x":9,"y":44,"v":0.19},{"x":10,"y":44,"v":0.2},{"x":11,"y":44,"v":0.12},{"x":12,"y":44,"v":0.02},{"x":13,"y":44,"v":0.17},{"x":14,"y":44,"v":0.17},{"x":15,"y":44,"v":0.02},{"x":16,"y":44,"v":0.155},{"x":17,"y":44,"v":0.14},{"x":18,"y":44,"v":0.04},{"x":19,"y":44,"v":0.13},{"x":20,"y":44,"v":0.13},{"x":21,"y":44,"v":0.12},{"x":22,"y":44,"v":0.09},{"x":23,"y":44,"v":0.065},{"x":24,"y":44,"v":0.12},{"x":25,"y":44,"v":0.01},{"x":26,"y":44,"v":0.09},{"x":27,"y":44,"v":0.01},{"x":28,"y":44,"v":0.05},{"x":29,"y":44,"v":0.01},{"x":30,"y":44,"v":0.09},{"x":31,"y":44,"v":0.01},{"x":32,"y":44,"v":0.1},{"x":33,"y":44,"v":0.01},{"x":34,"y":44,"v":0.1},{"x":35,"y":44,"v":0.01},{"x":36,"y":44,"v":0.12},{"x":37,"y":44,"v":0.1},{"x":38,"y":44,"v":0.09},{"x":39,"y":44,"v":0.1},{"x":40,"y":44,"v":0.09},{"x":41,"y":44,"v":0.1},{"x":42,"y":44,"v":0.01},{"x":43,"y":44,"v":0.09},{"x":44,"y":44,"v":0.1},{"x":45,"y":44,"v":0.1},{"x":46,"y":44,"v":0.065},{"x":47,"y":44,"v":0.01},{"x":48,"y":44,"v":0.09},{"x":49,"y":44,"v":0.065},
{"x":0,"y":45,"v":0},{"x":1,"y":45,"v":0},{"x":2,"y":45,"v":0},{"x":3,"y":45,"v":0.003},{"x":4,"y":45,"v":0.014},{"x":5,"y":45,"v":0.04},{"x":6,"y":45,"v":0.06},{"x":7,"y":45,"v":0.09},{"x":8,"y":45,"v":0.13},{"x":9,"y":45,"v":0.18},{"x":10,"y":45,"v":0.21},{"x":11,"y":45,"v":0.16},{"x":12,"y":45,"v":0.04},{"x":13,"y":45,"v":0.12},{"x":14,"y":45,"v":0.19},{"x":15,"y":45,"v":0.1},{"x":16,"y":45,"v":0.065},{"x":17,"y":45,"v":0.17},{"x":18,"y":45,"v":0.12},{"x":19,"y":45,"v":0.065},{"x":20,"y":45,"v":0.12},{"x":21,"y":45,"v":0.03},{"x":22,"y":45,"v":0.13},{"x":23,"y":45,"v":0.05},{"x":24,"y":45,"v":0.1},{"x":25,"y":45,"v":0.12},{"x":26,"y":45,"v":0.12},{"x":27,"y":45,"v":0.09},{"x":28,"y":45,"v":0.12},{"x":29,"y":45,"v":0.1},{"x":30,"y":45,"v":0.1},{"x":31,"y":45,"v":0.12},{"x":32,"y":45,"v":0.09},{"x":33,"y":45,"v":0.12},{"x":34,"y":45,"v":0.09},{"x":35,"y":45,"v":0.12},{"x":36,"y":45,"v":0.1},{"x":37,"y":45,"v":0.09},{"x":38,"y":45,"v":0.1},{"x":39,"y":45,"v":0.1},{"x":40,"y":45,"v":0.1},{"x":41,"y":45,"v":0.01},{"x":42,"y":45,"v":0.1},{"x":43,"y":45,"v":0.1},{"x":44,"y":45,"v":0.1},{"x":45,"y":45,"v":0.09},{"x":46,"y":45,"v":0.09},{"x":47,"y":45,"v":0.1},{"x":48,"y":45,"v":0.065},{"x":49,"y":45,"v":0.09},
{"x":0,"y":46,"v":0},{"x":1,"y":46,"v":0},{"x":2,"y":46,"v":0},{"x":3,"y":46,"v":0.002},{"x":4,"y":46,"v":0.01},{"x":5,"y":46,"v":0.03},{"x":6,"y":46,"v":0.05},{"x":7,"y":46,"v":0.08},{"x":8,"y":46,"v":0.11},{"x":9,"y":46,"v":0.15},{"x":10,"y":46,"v":0.2},{"x":11,"y":46,"v":0.2},{"x":12,"y":46,"v":0.1},{"x":13,"y":46,"v":0.04},{"x":14,"y":46,"v":0.17},{"x":15,"y":46,"v":0.17},{"x":16,"y":46,"v":0.02},{"x":17,"y":46,"v":0.14},{"x":18,"y":46,"v":0.155},{"x":19,"y":46,"v":0.02},{"x":20,"y":46,"v":0.065},{"x":21,"y":46,"v":0.12},{"x":22,"y":46,"v":0.13},{"x":23,"y":46,"v":0.09},{"x":24,"y":46,"v":0.04},{"x":25,"y":46,"v":0.065},{"x":26,"y":46,"v":0.01},{"x":27,"y":46,"v":0.1},{"x":28,"y":46,"v":0.09},{"x":29,"y":46,"v":0.09},{"x":30,"y":46,"v":0.1},{"x":31,"y":46,"v":0.09},{"x":32,"y":46,"v":0.1},{"x":33,"y":46,"v":0.09},{"x":34,"y":46,"v":0.12},{"x":35,"y":46,"v":0.09},{"x":36,"y":46,"v":0.09},{"x":37,"y":46,"v":0.1},{"x":38,"y":46,"v":0.01},{"x":39,"y":46,"v":0.12},{"x":40,"y":46,"v":0.1},{"x":41,"y":46,"v":0.1},{"x":42,"y":46,"v":0.1},{"x":43,"y":46,"v":0.09},{"x":44,"y":46,"v":0.065},{"x":45,"y":46,"v":0.01},{"x":46,"y":46,"v":0.1},{"x":47,"y":46,"v":0.1},{"x":48,"y":46,"v":0.09},{"x":49,"y":46,"v":0.09},
{"x":0,"y":47,"v":0},{"x":1,"y":47,"v":0},{"x":2,"y":47,"v":0},{"x":3,"y":47,"v":0.001},{"x":4,"y":47,"v":0.007},{"x":5,"y":47,"v":0.02},{"x":6,"y":47,"v":0.04},{"x":7,"y":47,"v":0.07},{"x":8,"y":47,"v":0.1},{"x":9,"y":47,"v":0.14},{"x":10,"y":47,"v":0.19},{"x":11,"y":47,"v":0.21},{"x":12,"y":47,"v":0.16},{"x":13,"y":47,"v":0.04},{"x":14,"y":47,"v":0.13},{"x":15,"y":47,"v":0.18},{"x":16,"y":47,"v":0.09},{"x":17,"y":47,"v":0.09},{"x":18,"y":47,"v":0.155},{"x":19,"y":47,"v":0.09},{"x":20,"y":47,"v":0.12},{"x":21,"y":47,"v":0.13},{"x":22,"y":47,"v":0.01},{"x":23,"y":47,"v":0.12},{"x":24,"y":47,"v":0.12},{"x":25,"y":47,"v":0.1},{"x":26,"y":47,"v":0.12},{"x":27,"y":47,"v":0.065},{"x":28,"y":47,"v":0.1},{"x":29,"y":47,"v":0.01},{"x":30,"y":47,"v":0.09},{"x":31,"y":47,"v":0.01},{"x":32,"y":47,"v":0.1},{"x":33,"y":47,"v":0.01},{"x":34,"y":47,"v":0.1},{"x":35,"y":47,"v":0.01},{"x":36,"y":47,"v":0.12},{"x":37,"y":47,"v":0.1},{"x":38,"y":47,"v":0.1},{"x":39,"y":47,"v":0.09},{"x":40,"y":47,"v":0.09},{"x":41,"y":47,"v":0.09},{"x":42,"y":47,"v":0.1},{"x":43,"y":47,"v":0.1},{"x":44,"y":47,"v":0.01},{"x":45,"y":47,"v":0.1},{"x":46,"y":47,"v":0.1},{"x":47,"y":47,"v":0.09},{"x":48,"y":47,"v":0.09},{"x":49,"y":47,"v":0.065},
{"x":0,"y":48,"v":0},{"x":1,"y":48,"v":0},{"x":2,"y":48,"v":0},{"x":3,"y":48,"v":0.001},{"x":4,"y":48,"v":0.005},{"x":5,"y":48,"v":0.015},{"x":6,"y":48,"v":0.03},{"x":7,"y":48,"v":0.05},{"x":8,"y":48,"v":0.08},{"x":9,"y":48,"v":0.12},{"x":10,"y":48,"v":0.17},{"x":11,"y":48,"v":0.21},{"x":12,"y":48,"v":0.2},{"x":13,"y":48,"v":0.12},{"x":14,"y":48,"v":0.04},{"x":15,"y":48,"v":0.18},{"x":16,"y":48,"v":0.155},{"x":17,"y":48,"v":0.03},{"x":18,"y":48,"v":0.13},{"x":19,"y":48,"v":0.14},{"x":20,"y":48,"v":0.01},{"x":21,"y":48,"v":0.13},{"x":22,"y":48,"v":0.09},{"x":23,"y":48,"v":0.05},{"x":24,"y":48,"v":0.1},{"x":25,"y":48,"v":0.01},{"x":26,"y":48,"v":0.13},{"x":27,"y":48,"v":0.065},{"x":28,"y":48,"v":0.09},{"x":29,"y":48,"v":0.12},{"x":30,"y":48,"v":0.1},{"x":31,"y":48,"v":0.12},{"x":32,"y":48,"v":0.09},{"x":33,"y":48,"v":0.1},{"x":34,"y":48,"v":0.1},{"x":35,"y":48,"v":0.12},{"x":36,"y":48,"v":0.1},{"x":37,"y":48,"v":0.09},{"x":38,"y":48,"v":0.1},{"x":39,"y":48,"v":0.065},{"x":40,"y":48,"v":0.09},{"x":41,"y":48,"v":0.1},{"x":42,"y":48,"v":0.09},{"x":43,"y":48,"v":0.01},{"x":44,"y":48,"v":0.09},{"x":45,"y":48,"v":0.065},{"x":46,"y":48,"v":0.09},{"x":47,"y":48,"v":0.09},{"x":48,"y":48,"v":0.05},{"x":49,"y":48,"v":0.065},
{"x":0,"y":49,"v":0},{"x":1,"y":49,"v":0},{"x":2,"y":49,"v":0},{"x":3,"y":49,"v":0},{"x":4,"y":49,"v":0.003},{"x":5,"y":49,"v":0.01},{"x":6,"y":49,"v":0.02},{"x":7,"y":49,"v":0.04},{"x":8,"y":49,"v":0.06},{"x":9,"y":49,"v":0.1},{"x":10,"y":49,"v":0.15},{"x":11,"y":49,"v":0.21},{"x":12,"y":49,"v":0.22},{"x":13,"y":49,"v":0.18},{"x":14,"y":49,"v":0.05},{"x":15,"y":49,"v":0.155},{"x":16,"y":49,"v":0.18},{"x":17,"y":49,"v":0.065},{"x":18,"y":49,"v":0.04},{"x":19,"y":49,"v":0.155},{"x":20,"y":49,"v":0.13},{"x":21,"y":49,"v":0.12},{"x":22,"y":49,"v":0.12},{"x":23,"y":49,"v":0.03},{"x":24,"y":49,"v":0.065},{"x":25,"y":49,"v":0.09},{"x":26,"y":49,"v":0.1},{"x":27,"y":49,"v":0.05},{"x":28,"y":49,"v":0.1},{"x":29,"y":49,"v":0.065},{"x":30,"y":49,"v":0.01},{"x":31,"y":49,"v":0.1},{"x":32,"y":49,"v":0.09},{"x":33,"y":49,"v":0.09},{"x":34,"y":49,"v":0.1},{"x":35,"y":49,"v":0.09},{"x":36,"y":49,"v":0.09},{"x":37,"y":49,"v":0.09},{"x":38,"y":49,"v":0.09},{"x":39,"y":49,"v":0.09},{"x":40,"y":49,"v":0.01},{"x":41,"y":49,"v":0.09},{"x":42,"y":49,"v":0.1},{"x":43,"y":49,"v":0.09},{"x":44,"y":49,"v":0.065},{"x":45,"y":49,"v":0.09},{"x":46,"y":49,"v":0.09},{"x":47,"y":49,"v":0.065},{"x":48,"y":49,"v":0.09},{"x":49,"y":49,"v":0.04}
]}}
